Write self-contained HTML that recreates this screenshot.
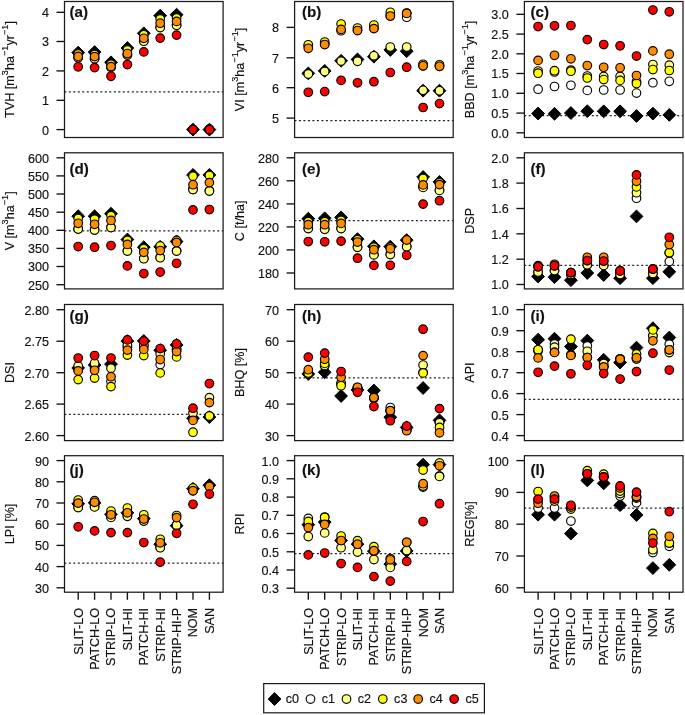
<!DOCTYPE html><html><head><meta charset="utf-8"><style>html,body{margin:0;padding:0;background:#fff;}svg{display:block;font-family:"Liberation Sans",sans-serif;will-change:transform;}text{stroke:#111;stroke-width:0.15px;fill:#111;}</style></head><body>
<svg width="685" height="715" viewBox="0 0 685 715">
<rect width="685" height="715" fill="#fff"/>
<line x1="64.3" y1="91.8" x2="223.1" y2="91.8" stroke="#222" stroke-width="1.25" stroke-dasharray="2 2.5"/>
<path d="M78.2 46.2L84.6 52.6L78.2 59L71.8 52.6Z" fill="#000" stroke="#000" stroke-width="1"/>
<circle cx="78.2" cy="57.4" r="4.3" fill="#ffffff" stroke="#000" stroke-width="1.15"/>
<circle cx="78.2" cy="57.7" r="4.3" fill="#ffff80" stroke="#000" stroke-width="1.15"/>
<circle cx="78.2" cy="54" r="4.3" fill="#ffff00" stroke="#000" stroke-width="1.15"/>
<circle cx="78.2" cy="56.4" r="4.3" fill="#ff8c00" stroke="#000" stroke-width="1.15"/>
<circle cx="78.2" cy="66.8" r="4.3" fill="#ff0000" stroke="#000" stroke-width="1.15"/>
<path d="M94.6 45.7L101 52.1L94.6 58.5L88.2 52.1Z" fill="#000" stroke="#000" stroke-width="1"/>
<circle cx="94.6" cy="58.4" r="4.3" fill="#ffffff" stroke="#000" stroke-width="1.15"/>
<circle cx="94.6" cy="58.7" r="4.3" fill="#ffff80" stroke="#000" stroke-width="1.15"/>
<circle cx="94.6" cy="54.5" r="4.3" fill="#ffff00" stroke="#000" stroke-width="1.15"/>
<circle cx="94.6" cy="56.6" r="4.3" fill="#ff8c00" stroke="#000" stroke-width="1.15"/>
<circle cx="94.6" cy="67.6" r="4.3" fill="#ff0000" stroke="#000" stroke-width="1.15"/>
<path d="M111 55.9L117.4 62.3L111 68.7L104.6 62.3Z" fill="#000" stroke="#000" stroke-width="1"/>
<circle cx="111" cy="67.1" r="4.3" fill="#ffffff" stroke="#000" stroke-width="1.15"/>
<circle cx="111" cy="67.4" r="4.3" fill="#ffff80" stroke="#000" stroke-width="1.15"/>
<circle cx="111" cy="64.2" r="4.3" fill="#ffff00" stroke="#000" stroke-width="1.15"/>
<circle cx="111" cy="66.6" r="4.3" fill="#ff8c00" stroke="#000" stroke-width="1.15"/>
<circle cx="111" cy="76.3" r="4.3" fill="#ff0000" stroke="#000" stroke-width="1.15"/>
<path d="M127.4 41.6L133.8 48L127.4 54.4L121 48Z" fill="#000" stroke="#000" stroke-width="1"/>
<circle cx="127.4" cy="54.8" r="4.3" fill="#ffffff" stroke="#000" stroke-width="1.15"/>
<circle cx="127.4" cy="55.1" r="4.3" fill="#ffff80" stroke="#000" stroke-width="1.15"/>
<circle cx="127.4" cy="49.9" r="4.3" fill="#ffff00" stroke="#000" stroke-width="1.15"/>
<circle cx="127.4" cy="53.5" r="4.3" fill="#ff8c00" stroke="#000" stroke-width="1.15"/>
<circle cx="127.4" cy="64.5" r="4.3" fill="#ff0000" stroke="#000" stroke-width="1.15"/>
<path d="M143.8 26.9L150.2 33.3L143.8 39.7L137.4 33.3Z" fill="#000" stroke="#000" stroke-width="1"/>
<circle cx="143.8" cy="40.9" r="4.3" fill="#ffffff" stroke="#000" stroke-width="1.15"/>
<circle cx="143.8" cy="41.2" r="4.3" fill="#ffff80" stroke="#000" stroke-width="1.15"/>
<circle cx="143.8" cy="34.7" r="4.3" fill="#ffff00" stroke="#000" stroke-width="1.15"/>
<circle cx="143.8" cy="38.3" r="4.3" fill="#ff8c00" stroke="#000" stroke-width="1.15"/>
<circle cx="143.8" cy="51.9" r="4.3" fill="#ff0000" stroke="#000" stroke-width="1.15"/>
<path d="M160.2 9.2L166.6 15.6L160.2 22L153.8 15.6Z" fill="#000" stroke="#000" stroke-width="1"/>
<circle cx="160.2" cy="27.3" r="4.3" fill="#ffffff" stroke="#000" stroke-width="1.15"/>
<circle cx="160.2" cy="27.6" r="4.3" fill="#ffff80" stroke="#000" stroke-width="1.15"/>
<circle cx="160.2" cy="18.9" r="4.3" fill="#ffff00" stroke="#000" stroke-width="1.15"/>
<circle cx="160.2" cy="23.2" r="4.3" fill="#ff8c00" stroke="#000" stroke-width="1.15"/>
<circle cx="160.2" cy="38.1" r="4.3" fill="#ff0000" stroke="#000" stroke-width="1.15"/>
<path d="M176.6 8.3L183 14.7L176.6 21.1L170.2 14.7Z" fill="#000" stroke="#000" stroke-width="1"/>
<circle cx="176.6" cy="24.9" r="4.3" fill="#ffffff" stroke="#000" stroke-width="1.15"/>
<circle cx="176.6" cy="25.2" r="4.3" fill="#ffff80" stroke="#000" stroke-width="1.15"/>
<circle cx="176.6" cy="18" r="4.3" fill="#ffff00" stroke="#000" stroke-width="1.15"/>
<circle cx="176.6" cy="21.4" r="4.3" fill="#ff8c00" stroke="#000" stroke-width="1.15"/>
<circle cx="176.6" cy="35.1" r="4.3" fill="#ff0000" stroke="#000" stroke-width="1.15"/>
<path d="M193 123.2L199.4 129.6L193 136L186.6 129.6Z" fill="#000" stroke="#000" stroke-width="1"/>
<circle cx="193" cy="129.3" r="4.3" fill="#ffffff" stroke="#000" stroke-width="1.15"/>
<circle cx="193" cy="129.6" r="4.3" fill="#ffff80" stroke="#000" stroke-width="1.15"/>
<circle cx="193" cy="129.6" r="4.3" fill="#ffff00" stroke="#000" stroke-width="1.15"/>
<circle cx="193" cy="129.6" r="4.3" fill="#ff8c00" stroke="#000" stroke-width="1.15"/>
<circle cx="193" cy="129.6" r="4.3" fill="#ff0000" stroke="#000" stroke-width="1.15"/>
<path d="M209.4 123.2L215.8 129.6L209.4 136L203 129.6Z" fill="#000" stroke="#000" stroke-width="1"/>
<circle cx="209.4" cy="129.3" r="4.3" fill="#ffffff" stroke="#000" stroke-width="1.15"/>
<circle cx="209.4" cy="129.6" r="4.3" fill="#ffff80" stroke="#000" stroke-width="1.15"/>
<circle cx="209.4" cy="129.6" r="4.3" fill="#ffff00" stroke="#000" stroke-width="1.15"/>
<circle cx="209.4" cy="129.6" r="4.3" fill="#ff8c00" stroke="#000" stroke-width="1.15"/>
<circle cx="209.4" cy="129.6" r="4.3" fill="#ff0000" stroke="#000" stroke-width="1.15"/>
<rect x="64.5" y="1.5" width="158.6" height="136" fill="none" stroke="#1a1a1a" stroke-width="1.25"/>
<line x1="56.5" y1="12.3" x2="64.5" y2="12.3" stroke="#111" stroke-width="1.35"/>
<text x="48.9" y="17.2" text-anchor="end" font-size="12.6" fill="#111">4</text>
<line x1="56.5" y1="41.5" x2="64.5" y2="41.5" stroke="#111" stroke-width="1.35"/>
<text x="48.9" y="46.4" text-anchor="end" font-size="12.6" fill="#111">3</text>
<line x1="56.5" y1="70.9" x2="64.5" y2="70.9" stroke="#111" stroke-width="1.35"/>
<text x="48.9" y="75.8" text-anchor="end" font-size="12.6" fill="#111">2</text>
<line x1="56.5" y1="100.3" x2="64.5" y2="100.3" stroke="#111" stroke-width="1.35"/>
<text x="48.9" y="105.2" text-anchor="end" font-size="12.6" fill="#111">1</text>
<line x1="56.5" y1="129.6" x2="64.5" y2="129.6" stroke="#111" stroke-width="1.35"/>
<text x="48.9" y="134.5" text-anchor="end" font-size="12.6" fill="#111">0</text>
<text transform="translate(14.1 69.5) rotate(-90)" text-anchor="middle" font-size="12.6">TVH [m<tspan font-size="9.2" dy="-6">3</tspan><tspan dy="6">ha</tspan><tspan font-size="9.2" dy="-6">−1</tspan><tspan dy="6">yr</tspan><tspan font-size="9.2" dy="-6">−1</tspan><tspan dy="6">]</tspan></text>
<text x="69.5" y="16.6" font-size="15.2" font-weight="bold" fill="#111">(a)</text>
<line x1="294.4" y1="120.6" x2="453.2" y2="120.6" stroke="#222" stroke-width="1.25" stroke-dasharray="2 2.5"/>
<path d="M308.3 67L314.7 73.4L308.3 79.8L301.9 73.4Z" fill="#000" stroke="#000" stroke-width="1"/>
<circle cx="308.3" cy="46" r="4.3" fill="#ffffff" stroke="#000" stroke-width="1.15"/>
<circle cx="308.3" cy="74.1" r="4.3" fill="#ffff80" stroke="#000" stroke-width="1.15"/>
<circle cx="308.3" cy="44.8" r="4.3" fill="#ffff00" stroke="#000" stroke-width="1.15"/>
<circle cx="308.3" cy="48.3" r="4.3" fill="#ff8c00" stroke="#000" stroke-width="1.15"/>
<circle cx="308.3" cy="92.3" r="4.3" fill="#ff0000" stroke="#000" stroke-width="1.15"/>
<path d="M324.7 64.5L331.1 70.9L324.7 77.3L318.3 70.9Z" fill="#000" stroke="#000" stroke-width="1"/>
<circle cx="324.7" cy="44" r="4.3" fill="#ffffff" stroke="#000" stroke-width="1.15"/>
<circle cx="324.7" cy="71.6" r="4.3" fill="#ffff80" stroke="#000" stroke-width="1.15"/>
<circle cx="324.7" cy="42" r="4.3" fill="#ffff00" stroke="#000" stroke-width="1.15"/>
<circle cx="324.7" cy="44.5" r="4.3" fill="#ff8c00" stroke="#000" stroke-width="1.15"/>
<circle cx="324.7" cy="91.6" r="4.3" fill="#ff0000" stroke="#000" stroke-width="1.15"/>
<path d="M341.1 54.4L347.5 60.8L341.1 67.2L334.7 60.8Z" fill="#000" stroke="#000" stroke-width="1"/>
<circle cx="341.1" cy="30.7" r="4.3" fill="#ffffff" stroke="#000" stroke-width="1.15"/>
<circle cx="341.1" cy="61.1" r="4.3" fill="#ffff80" stroke="#000" stroke-width="1.15"/>
<circle cx="341.1" cy="24" r="4.3" fill="#ffff00" stroke="#000" stroke-width="1.15"/>
<circle cx="341.1" cy="29.4" r="4.3" fill="#ff8c00" stroke="#000" stroke-width="1.15"/>
<circle cx="341.1" cy="80.4" r="4.3" fill="#ff0000" stroke="#000" stroke-width="1.15"/>
<path d="M357.5 53L363.9 59.4L357.5 65.8L351.1 59.4Z" fill="#000" stroke="#000" stroke-width="1"/>
<circle cx="357.5" cy="30" r="4.3" fill="#ffffff" stroke="#000" stroke-width="1.15"/>
<circle cx="357.5" cy="61.3" r="4.3" fill="#ffff80" stroke="#000" stroke-width="1.15"/>
<circle cx="357.5" cy="28" r="4.3" fill="#ffff00" stroke="#000" stroke-width="1.15"/>
<circle cx="357.5" cy="30.5" r="4.3" fill="#ff8c00" stroke="#000" stroke-width="1.15"/>
<circle cx="357.5" cy="82.8" r="4.3" fill="#ff0000" stroke="#000" stroke-width="1.15"/>
<path d="M373.9 50.3L380.3 56.7L373.9 63.1L367.5 56.7Z" fill="#000" stroke="#000" stroke-width="1"/>
<circle cx="373.9" cy="28" r="4.3" fill="#ffffff" stroke="#000" stroke-width="1.15"/>
<circle cx="373.9" cy="55.8" r="4.3" fill="#ffff80" stroke="#000" stroke-width="1.15"/>
<circle cx="373.9" cy="25" r="4.3" fill="#ffff00" stroke="#000" stroke-width="1.15"/>
<circle cx="373.9" cy="28.6" r="4.3" fill="#ff8c00" stroke="#000" stroke-width="1.15"/>
<circle cx="373.9" cy="81.7" r="4.3" fill="#ff0000" stroke="#000" stroke-width="1.15"/>
<path d="M390.3 43.6L396.7 50L390.3 56.4L383.9 50Z" fill="#000" stroke="#000" stroke-width="1"/>
<circle cx="390.3" cy="16" r="4.3" fill="#ffffff" stroke="#000" stroke-width="1.15"/>
<circle cx="390.3" cy="47" r="4.3" fill="#ffff80" stroke="#000" stroke-width="1.15"/>
<circle cx="390.3" cy="12.3" r="4.3" fill="#ffff00" stroke="#000" stroke-width="1.15"/>
<circle cx="390.3" cy="16" r="4.3" fill="#ff8c00" stroke="#000" stroke-width="1.15"/>
<circle cx="390.3" cy="72.5" r="4.3" fill="#ff0000" stroke="#000" stroke-width="1.15"/>
<path d="M406.7 44.8L413.1 51.2L406.7 57.6L400.3 51.2Z" fill="#000" stroke="#000" stroke-width="1"/>
<circle cx="406.7" cy="17.2" r="4.3" fill="#ffffff" stroke="#000" stroke-width="1.15"/>
<circle cx="406.7" cy="47" r="4.3" fill="#ffff80" stroke="#000" stroke-width="1.15"/>
<circle cx="406.7" cy="13" r="4.3" fill="#ffff00" stroke="#000" stroke-width="1.15"/>
<circle cx="406.7" cy="13.4" r="4.3" fill="#ff8c00" stroke="#000" stroke-width="1.15"/>
<circle cx="406.7" cy="67.2" r="4.3" fill="#ff0000" stroke="#000" stroke-width="1.15"/>
<path d="M423.1 84.3L429.5 90.7L423.1 97.1L416.7 90.7Z" fill="#000" stroke="#000" stroke-width="1"/>
<circle cx="423.1" cy="65.8" r="4.3" fill="#ffffff" stroke="#000" stroke-width="1.15"/>
<circle cx="423.1" cy="90.3" r="4.3" fill="#ffff80" stroke="#000" stroke-width="1.15"/>
<circle cx="423.1" cy="64.3" r="4.3" fill="#ffff00" stroke="#000" stroke-width="1.15"/>
<circle cx="423.1" cy="65.8" r="4.3" fill="#ff8c00" stroke="#000" stroke-width="1.15"/>
<circle cx="423.1" cy="107.5" r="4.3" fill="#ff0000" stroke="#000" stroke-width="1.15"/>
<path d="M439.5 84.3L445.9 90.7L439.5 97.1L433.1 90.7Z" fill="#000" stroke="#000" stroke-width="1"/>
<circle cx="439.5" cy="66.3" r="4.3" fill="#ffffff" stroke="#000" stroke-width="1.15"/>
<circle cx="439.5" cy="90.7" r="4.3" fill="#ffff80" stroke="#000" stroke-width="1.15"/>
<circle cx="439.5" cy="64.8" r="4.3" fill="#ffff00" stroke="#000" stroke-width="1.15"/>
<circle cx="439.5" cy="66.3" r="4.3" fill="#ff8c00" stroke="#000" stroke-width="1.15"/>
<circle cx="439.5" cy="103.6" r="4.3" fill="#ff0000" stroke="#000" stroke-width="1.15"/>
<rect x="294.6" y="1.5" width="158.6" height="136" fill="none" stroke="#1a1a1a" stroke-width="1.25"/>
<line x1="286.6" y1="27.4" x2="294.6" y2="27.4" stroke="#111" stroke-width="1.35"/>
<text x="279" y="32.3" text-anchor="end" font-size="12.6" fill="#111">8</text>
<line x1="286.6" y1="57.8" x2="294.6" y2="57.8" stroke="#111" stroke-width="1.35"/>
<text x="279" y="62.7" text-anchor="end" font-size="12.6" fill="#111">7</text>
<line x1="286.6" y1="87.7" x2="294.6" y2="87.7" stroke="#111" stroke-width="1.35"/>
<text x="279" y="92.6" text-anchor="end" font-size="12.6" fill="#111">6</text>
<line x1="286.6" y1="118.1" x2="294.6" y2="118.1" stroke="#111" stroke-width="1.35"/>
<text x="279" y="123" text-anchor="end" font-size="12.6" fill="#111">5</text>
<text transform="translate(244.2 69.5) rotate(-90)" text-anchor="middle" font-size="12.6">VI [m<tspan font-size="9.2" dy="-6">3</tspan><tspan dy="6">ha</tspan><tspan font-size="9.2" dy="-6">−1</tspan><tspan dy="6">yr</tspan><tspan font-size="9.2" dy="-6">−1</tspan><tspan dy="6">]</tspan></text>
<text x="301.9" y="16.6" font-size="15.2" font-weight="bold" fill="#111">(b)</text>
<line x1="524.2" y1="115.5" x2="683" y2="115.5" stroke="#222" stroke-width="1.25" stroke-dasharray="2 2.5"/>
<path d="M538.1 107.1L544.5 113.5L538.1 119.9L531.7 113.5Z" fill="#000" stroke="#000" stroke-width="1"/>
<circle cx="538.1" cy="89.2" r="4.3" fill="#ffffff" stroke="#000" stroke-width="1.15"/>
<circle cx="538.1" cy="71" r="4.3" fill="#ffff80" stroke="#000" stroke-width="1.15"/>
<circle cx="538.1" cy="73.2" r="4.3" fill="#ffff00" stroke="#000" stroke-width="1.15"/>
<circle cx="538.1" cy="60.4" r="4.3" fill="#ff8c00" stroke="#000" stroke-width="1.15"/>
<circle cx="538.1" cy="26.5" r="4.3" fill="#ff0000" stroke="#000" stroke-width="1.15"/>
<path d="M554.5 107.4L560.9 113.8L554.5 120.2L548.1 113.8Z" fill="#000" stroke="#000" stroke-width="1"/>
<circle cx="554.5" cy="86.5" r="4.3" fill="#ffffff" stroke="#000" stroke-width="1.15"/>
<circle cx="554.5" cy="72" r="4.3" fill="#ffff80" stroke="#000" stroke-width="1.15"/>
<circle cx="554.5" cy="70.7" r="4.3" fill="#ffff00" stroke="#000" stroke-width="1.15"/>
<circle cx="554.5" cy="55.3" r="4.3" fill="#ff8c00" stroke="#000" stroke-width="1.15"/>
<circle cx="554.5" cy="25.8" r="4.3" fill="#ff0000" stroke="#000" stroke-width="1.15"/>
<path d="M570.9 106.6L577.3 113L570.9 119.4L564.5 113Z" fill="#000" stroke="#000" stroke-width="1"/>
<circle cx="570.9" cy="85.3" r="4.3" fill="#ffffff" stroke="#000" stroke-width="1.15"/>
<circle cx="570.9" cy="70" r="4.3" fill="#ffff80" stroke="#000" stroke-width="1.15"/>
<circle cx="570.9" cy="71.2" r="4.3" fill="#ffff00" stroke="#000" stroke-width="1.15"/>
<circle cx="570.9" cy="58.8" r="4.3" fill="#ff8c00" stroke="#000" stroke-width="1.15"/>
<circle cx="570.9" cy="25.5" r="4.3" fill="#ff0000" stroke="#000" stroke-width="1.15"/>
<path d="M587.3 104.8L593.7 111.2L587.3 117.6L580.9 111.2Z" fill="#000" stroke="#000" stroke-width="1"/>
<circle cx="587.3" cy="90.4" r="4.3" fill="#ffffff" stroke="#000" stroke-width="1.15"/>
<circle cx="587.3" cy="76" r="4.3" fill="#ffff80" stroke="#000" stroke-width="1.15"/>
<circle cx="587.3" cy="78" r="4.3" fill="#ffff00" stroke="#000" stroke-width="1.15"/>
<circle cx="587.3" cy="65.5" r="4.3" fill="#ff8c00" stroke="#000" stroke-width="1.15"/>
<circle cx="587.3" cy="39.6" r="4.3" fill="#ff0000" stroke="#000" stroke-width="1.15"/>
<path d="M603.7 104.9L610.1 111.3L603.7 117.7L597.3 111.3Z" fill="#000" stroke="#000" stroke-width="1"/>
<circle cx="603.7" cy="90" r="4.3" fill="#ffffff" stroke="#000" stroke-width="1.15"/>
<circle cx="603.7" cy="76.4" r="4.3" fill="#ffff80" stroke="#000" stroke-width="1.15"/>
<circle cx="603.7" cy="79.6" r="4.3" fill="#ffff00" stroke="#000" stroke-width="1.15"/>
<circle cx="603.7" cy="67.3" r="4.3" fill="#ff8c00" stroke="#000" stroke-width="1.15"/>
<circle cx="603.7" cy="44.5" r="4.3" fill="#ff0000" stroke="#000" stroke-width="1.15"/>
<path d="M620.1 104.9L626.5 111.3L620.1 117.7L613.7 111.3Z" fill="#000" stroke="#000" stroke-width="1"/>
<circle cx="620.1" cy="90" r="4.3" fill="#ffffff" stroke="#000" stroke-width="1.15"/>
<circle cx="620.1" cy="76.4" r="4.3" fill="#ffff80" stroke="#000" stroke-width="1.15"/>
<circle cx="620.1" cy="80.4" r="4.3" fill="#ffff00" stroke="#000" stroke-width="1.15"/>
<circle cx="620.1" cy="67.8" r="4.3" fill="#ff8c00" stroke="#000" stroke-width="1.15"/>
<circle cx="620.1" cy="45.8" r="4.3" fill="#ff0000" stroke="#000" stroke-width="1.15"/>
<path d="M636.5 109.6L642.9 116L636.5 122.4L630.1 116Z" fill="#000" stroke="#000" stroke-width="1"/>
<circle cx="636.5" cy="93.1" r="4.3" fill="#ffffff" stroke="#000" stroke-width="1.15"/>
<circle cx="636.5" cy="81.8" r="4.3" fill="#ffff80" stroke="#000" stroke-width="1.15"/>
<circle cx="636.5" cy="83.6" r="4.3" fill="#ffff00" stroke="#000" stroke-width="1.15"/>
<circle cx="636.5" cy="75.5" r="4.3" fill="#ff8c00" stroke="#000" stroke-width="1.15"/>
<circle cx="636.5" cy="56" r="4.3" fill="#ff0000" stroke="#000" stroke-width="1.15"/>
<path d="M652.9 107.2L659.3 113.6L652.9 120L646.5 113.6Z" fill="#000" stroke="#000" stroke-width="1"/>
<circle cx="652.9" cy="82.7" r="4.3" fill="#ffffff" stroke="#000" stroke-width="1.15"/>
<circle cx="652.9" cy="64.5" r="4.3" fill="#ffff80" stroke="#000" stroke-width="1.15"/>
<circle cx="652.9" cy="69.6" r="4.3" fill="#ffff00" stroke="#000" stroke-width="1.15"/>
<circle cx="652.9" cy="50.9" r="4.3" fill="#ff8c00" stroke="#000" stroke-width="1.15"/>
<circle cx="652.9" cy="10" r="4.3" fill="#ff0000" stroke="#000" stroke-width="1.15"/>
<path d="M669.3 108.5L675.7 114.9L669.3 121.3L662.9 114.9Z" fill="#000" stroke="#000" stroke-width="1"/>
<circle cx="669.3" cy="81.3" r="4.3" fill="#ffffff" stroke="#000" stroke-width="1.15"/>
<circle cx="669.3" cy="65.1" r="4.3" fill="#ffff80" stroke="#000" stroke-width="1.15"/>
<circle cx="669.3" cy="70.5" r="4.3" fill="#ffff00" stroke="#000" stroke-width="1.15"/>
<circle cx="669.3" cy="54.2" r="4.3" fill="#ff8c00" stroke="#000" stroke-width="1.15"/>
<circle cx="669.3" cy="11.8" r="4.3" fill="#ff0000" stroke="#000" stroke-width="1.15"/>
<rect x="524.4" y="1.5" width="158.6" height="136" fill="none" stroke="#1a1a1a" stroke-width="1.25"/>
<line x1="516.4" y1="14.3" x2="524.4" y2="14.3" stroke="#111" stroke-width="1.35"/>
<text x="508.8" y="19.2" text-anchor="end" font-size="12.6" fill="#111">3.0</text>
<line x1="516.4" y1="34.1" x2="524.4" y2="34.1" stroke="#111" stroke-width="1.35"/>
<text x="508.8" y="39" text-anchor="end" font-size="12.6" fill="#111">2.5</text>
<line x1="516.4" y1="53.8" x2="524.4" y2="53.8" stroke="#111" stroke-width="1.35"/>
<text x="508.8" y="58.7" text-anchor="end" font-size="12.6" fill="#111">2.0</text>
<line x1="516.4" y1="73.5" x2="524.4" y2="73.5" stroke="#111" stroke-width="1.35"/>
<text x="508.8" y="78.4" text-anchor="end" font-size="12.6" fill="#111">1.5</text>
<line x1="516.4" y1="93.3" x2="524.4" y2="93.3" stroke="#111" stroke-width="1.35"/>
<text x="508.8" y="98.2" text-anchor="end" font-size="12.6" fill="#111">1.0</text>
<line x1="516.4" y1="113.1" x2="524.4" y2="113.1" stroke="#111" stroke-width="1.35"/>
<text x="508.8" y="118" text-anchor="end" font-size="12.6" fill="#111">0.5</text>
<line x1="516.4" y1="132.8" x2="524.4" y2="132.8" stroke="#111" stroke-width="1.35"/>
<text x="508.8" y="137.7" text-anchor="end" font-size="12.6" fill="#111">0.0</text>
<text transform="translate(474 69.5) rotate(-90)" text-anchor="middle" font-size="12.6">BBD [m<tspan font-size="9.2" dy="-6">3</tspan><tspan dy="6">ha</tspan><tspan font-size="9.2" dy="-6">−1</tspan><tspan dy="6">yr</tspan><tspan font-size="9.2" dy="-6">−1</tspan><tspan dy="6">]</tspan></text>
<text x="530.5" y="16.6" font-size="15.2" font-weight="bold" fill="#111">(c)</text>
<line x1="64.3" y1="230.8" x2="223.1" y2="230.8" stroke="#222" stroke-width="1.25" stroke-dasharray="2 2.5"/>
<path d="M78.2 209.8L84.6 216.2L78.2 222.6L71.8 216.2Z" fill="#000" stroke="#000" stroke-width="1"/>
<circle cx="78.2" cy="228.7" r="4.3" fill="#ffffff" stroke="#000" stroke-width="1.15"/>
<circle cx="78.2" cy="229" r="4.3" fill="#ffff80" stroke="#000" stroke-width="1.15"/>
<circle cx="78.2" cy="218.5" r="4.3" fill="#ffff00" stroke="#000" stroke-width="1.15"/>
<circle cx="78.2" cy="223.3" r="4.3" fill="#ff8c00" stroke="#000" stroke-width="1.15"/>
<circle cx="78.2" cy="246.5" r="4.3" fill="#ff0000" stroke="#000" stroke-width="1.15"/>
<path d="M94.6 209.8L101 216.2L94.6 222.6L88.2 216.2Z" fill="#000" stroke="#000" stroke-width="1"/>
<circle cx="94.6" cy="229.7" r="4.3" fill="#ffffff" stroke="#000" stroke-width="1.15"/>
<circle cx="94.6" cy="230" r="4.3" fill="#ffff80" stroke="#000" stroke-width="1.15"/>
<circle cx="94.6" cy="219.3" r="4.3" fill="#ffff00" stroke="#000" stroke-width="1.15"/>
<circle cx="94.6" cy="224.3" r="4.3" fill="#ff8c00" stroke="#000" stroke-width="1.15"/>
<circle cx="94.6" cy="247.2" r="4.3" fill="#ff0000" stroke="#000" stroke-width="1.15"/>
<path d="M111 207.3L117.4 213.7L111 220.1L104.6 213.7Z" fill="#000" stroke="#000" stroke-width="1"/>
<circle cx="111" cy="227.3" r="4.3" fill="#ffffff" stroke="#000" stroke-width="1.15"/>
<circle cx="111" cy="227.6" r="4.3" fill="#ffff80" stroke="#000" stroke-width="1.15"/>
<circle cx="111" cy="215.6" r="4.3" fill="#ffff00" stroke="#000" stroke-width="1.15"/>
<circle cx="111" cy="220.4" r="4.3" fill="#ff8c00" stroke="#000" stroke-width="1.15"/>
<circle cx="111" cy="245.5" r="4.3" fill="#ff0000" stroke="#000" stroke-width="1.15"/>
<path d="M127.4 233.1L133.8 239.5L127.4 245.9L121 239.5Z" fill="#000" stroke="#000" stroke-width="1"/>
<circle cx="127.4" cy="250.8" r="4.3" fill="#ffffff" stroke="#000" stroke-width="1.15"/>
<circle cx="127.4" cy="251.1" r="4.3" fill="#ffff80" stroke="#000" stroke-width="1.15"/>
<circle cx="127.4" cy="240.4" r="4.3" fill="#ffff00" stroke="#000" stroke-width="1.15"/>
<circle cx="127.4" cy="244.4" r="4.3" fill="#ff8c00" stroke="#000" stroke-width="1.15"/>
<circle cx="127.4" cy="265.9" r="4.3" fill="#ff0000" stroke="#000" stroke-width="1.15"/>
<path d="M143.8 240.8L150.2 247.2L143.8 253.6L137.4 247.2Z" fill="#000" stroke="#000" stroke-width="1"/>
<circle cx="143.8" cy="258.4" r="4.3" fill="#ffffff" stroke="#000" stroke-width="1.15"/>
<circle cx="143.8" cy="258.7" r="4.3" fill="#ffff80" stroke="#000" stroke-width="1.15"/>
<circle cx="143.8" cy="248.6" r="4.3" fill="#ffff00" stroke="#000" stroke-width="1.15"/>
<circle cx="143.8" cy="252.4" r="4.3" fill="#ff8c00" stroke="#000" stroke-width="1.15"/>
<circle cx="143.8" cy="273.5" r="4.3" fill="#ff0000" stroke="#000" stroke-width="1.15"/>
<path d="M160.2 240.4L166.6 246.8L160.2 253.2L153.8 246.8Z" fill="#000" stroke="#000" stroke-width="1"/>
<circle cx="160.2" cy="257.4" r="4.3" fill="#ffffff" stroke="#000" stroke-width="1.15"/>
<circle cx="160.2" cy="257.7" r="4.3" fill="#ffff80" stroke="#000" stroke-width="1.15"/>
<circle cx="160.2" cy="246" r="4.3" fill="#ffff00" stroke="#000" stroke-width="1.15"/>
<circle cx="160.2" cy="250.5" r="4.3" fill="#ff8c00" stroke="#000" stroke-width="1.15"/>
<circle cx="160.2" cy="272" r="4.3" fill="#ff0000" stroke="#000" stroke-width="1.15"/>
<path d="M176.6 235.1L183 241.5L176.6 247.9L170.2 241.5Z" fill="#000" stroke="#000" stroke-width="1"/>
<circle cx="176.6" cy="250.8" r="4.3" fill="#ffffff" stroke="#000" stroke-width="1.15"/>
<circle cx="176.6" cy="251.1" r="4.3" fill="#ffff80" stroke="#000" stroke-width="1.15"/>
<circle cx="176.6" cy="240.4" r="4.3" fill="#ffff00" stroke="#000" stroke-width="1.15"/>
<circle cx="176.6" cy="242.4" r="4.3" fill="#ff8c00" stroke="#000" stroke-width="1.15"/>
<circle cx="176.6" cy="263.3" r="4.3" fill="#ff0000" stroke="#000" stroke-width="1.15"/>
<path d="M193 168.5L199.4 174.9L193 181.3L186.6 174.9Z" fill="#000" stroke="#000" stroke-width="1"/>
<circle cx="193" cy="189.2" r="4.3" fill="#ffffff" stroke="#000" stroke-width="1.15"/>
<circle cx="193" cy="189.5" r="4.3" fill="#ffff80" stroke="#000" stroke-width="1.15"/>
<circle cx="193" cy="176.3" r="4.3" fill="#ffff00" stroke="#000" stroke-width="1.15"/>
<circle cx="193" cy="184.7" r="4.3" fill="#ff8c00" stroke="#000" stroke-width="1.15"/>
<circle cx="193" cy="209.9" r="4.3" fill="#ff0000" stroke="#000" stroke-width="1.15"/>
<path d="M209.4 168.5L215.8 174.9L209.4 181.3L203 174.9Z" fill="#000" stroke="#000" stroke-width="1"/>
<circle cx="209.4" cy="190.7" r="4.3" fill="#ffffff" stroke="#000" stroke-width="1.15"/>
<circle cx="209.4" cy="191" r="4.3" fill="#ffff80" stroke="#000" stroke-width="1.15"/>
<circle cx="209.4" cy="175.5" r="4.3" fill="#ffff00" stroke="#000" stroke-width="1.15"/>
<circle cx="209.4" cy="182.6" r="4.3" fill="#ff8c00" stroke="#000" stroke-width="1.15"/>
<circle cx="209.4" cy="209.5" r="4.3" fill="#ff0000" stroke="#000" stroke-width="1.15"/>
<rect x="64.5" y="152.8" width="158.6" height="136.1" fill="none" stroke="#1a1a1a" stroke-width="1.25"/>
<line x1="56.5" y1="157.8" x2="64.5" y2="157.8" stroke="#111" stroke-width="1.35"/>
<text x="48.9" y="162.7" text-anchor="end" font-size="12.6" fill="#111">600</text>
<line x1="56.5" y1="175.9" x2="64.5" y2="175.9" stroke="#111" stroke-width="1.35"/>
<text x="48.9" y="180.8" text-anchor="end" font-size="12.6" fill="#111">550</text>
<line x1="56.5" y1="194" x2="64.5" y2="194" stroke="#111" stroke-width="1.35"/>
<text x="48.9" y="198.9" text-anchor="end" font-size="12.6" fill="#111">500</text>
<line x1="56.5" y1="212.2" x2="64.5" y2="212.2" stroke="#111" stroke-width="1.35"/>
<text x="48.9" y="217.1" text-anchor="end" font-size="12.6" fill="#111">450</text>
<line x1="56.5" y1="230.3" x2="64.5" y2="230.3" stroke="#111" stroke-width="1.35"/>
<text x="48.9" y="235.2" text-anchor="end" font-size="12.6" fill="#111">400</text>
<line x1="56.5" y1="248.4" x2="64.5" y2="248.4" stroke="#111" stroke-width="1.35"/>
<text x="48.9" y="253.3" text-anchor="end" font-size="12.6" fill="#111">350</text>
<line x1="56.5" y1="266.5" x2="64.5" y2="266.5" stroke="#111" stroke-width="1.35"/>
<text x="48.9" y="271.4" text-anchor="end" font-size="12.6" fill="#111">300</text>
<line x1="56.5" y1="284.7" x2="64.5" y2="284.7" stroke="#111" stroke-width="1.35"/>
<text x="48.9" y="289.6" text-anchor="end" font-size="12.6" fill="#111">250</text>
<text transform="translate(14.1 220.85) rotate(-90)" text-anchor="middle" font-size="12.6">V [m<tspan font-size="9.2" dy="-6">3</tspan><tspan dy="6">ha</tspan><tspan font-size="9.2" dy="-6">−1</tspan><tspan dy="6">]</tspan></text>
<text x="69.5" y="173.7" font-size="15.2" font-weight="bold" fill="#111">(d)</text>
<line x1="294.4" y1="220.5" x2="453.2" y2="220.5" stroke="#222" stroke-width="1.25" stroke-dasharray="2 2.5"/>
<path d="M308.3 212.3L314.7 218.7L308.3 225.1L301.9 218.7Z" fill="#000" stroke="#000" stroke-width="1"/>
<circle cx="308.3" cy="228.3" r="4.3" fill="#ffffff" stroke="#000" stroke-width="1.15"/>
<circle cx="308.3" cy="228.6" r="4.3" fill="#ffff80" stroke="#000" stroke-width="1.15"/>
<circle cx="308.3" cy="221.7" r="4.3" fill="#ffff00" stroke="#000" stroke-width="1.15"/>
<circle cx="308.3" cy="224.7" r="4.3" fill="#ff8c00" stroke="#000" stroke-width="1.15"/>
<circle cx="308.3" cy="241.5" r="4.3" fill="#ff0000" stroke="#000" stroke-width="1.15"/>
<path d="M324.7 211.9L331.1 218.3L324.7 224.7L318.3 218.3Z" fill="#000" stroke="#000" stroke-width="1"/>
<circle cx="324.7" cy="229" r="4.3" fill="#ffffff" stroke="#000" stroke-width="1.15"/>
<circle cx="324.7" cy="229.3" r="4.3" fill="#ffff80" stroke="#000" stroke-width="1.15"/>
<circle cx="324.7" cy="221.7" r="4.3" fill="#ffff00" stroke="#000" stroke-width="1.15"/>
<circle cx="324.7" cy="224.7" r="4.3" fill="#ff8c00" stroke="#000" stroke-width="1.15"/>
<circle cx="324.7" cy="241.8" r="4.3" fill="#ff0000" stroke="#000" stroke-width="1.15"/>
<path d="M341.1 211L347.5 217.4L341.1 223.8L334.7 217.4Z" fill="#000" stroke="#000" stroke-width="1"/>
<circle cx="341.1" cy="228.3" r="4.3" fill="#ffffff" stroke="#000" stroke-width="1.15"/>
<circle cx="341.1" cy="228.6" r="4.3" fill="#ffff80" stroke="#000" stroke-width="1.15"/>
<circle cx="341.1" cy="220.4" r="4.3" fill="#ffff00" stroke="#000" stroke-width="1.15"/>
<circle cx="341.1" cy="223.4" r="4.3" fill="#ff8c00" stroke="#000" stroke-width="1.15"/>
<circle cx="341.1" cy="241.1" r="4.3" fill="#ff0000" stroke="#000" stroke-width="1.15"/>
<path d="M357.5 232.7L363.9 239.1L357.5 245.5L351.1 239.1Z" fill="#000" stroke="#000" stroke-width="1"/>
<circle cx="357.5" cy="247" r="4.3" fill="#ffffff" stroke="#000" stroke-width="1.15"/>
<circle cx="357.5" cy="247.3" r="4.3" fill="#ffff80" stroke="#000" stroke-width="1.15"/>
<circle cx="357.5" cy="239.7" r="4.3" fill="#ffff00" stroke="#000" stroke-width="1.15"/>
<circle cx="357.5" cy="242" r="4.3" fill="#ff8c00" stroke="#000" stroke-width="1.15"/>
<circle cx="357.5" cy="258.2" r="4.3" fill="#ff0000" stroke="#000" stroke-width="1.15"/>
<path d="M373.9 239.9L380.3 246.3L373.9 252.7L367.5 246.3Z" fill="#000" stroke="#000" stroke-width="1"/>
<circle cx="373.9" cy="254.6" r="4.3" fill="#ffffff" stroke="#000" stroke-width="1.15"/>
<circle cx="373.9" cy="254.9" r="4.3" fill="#ffff80" stroke="#000" stroke-width="1.15"/>
<circle cx="373.9" cy="247.3" r="4.3" fill="#ffff00" stroke="#000" stroke-width="1.15"/>
<circle cx="373.9" cy="249.7" r="4.3" fill="#ff8c00" stroke="#000" stroke-width="1.15"/>
<circle cx="373.9" cy="265.4" r="4.3" fill="#ff0000" stroke="#000" stroke-width="1.15"/>
<path d="M390.3 240.2L396.7 246.6L390.3 253L383.9 246.6Z" fill="#000" stroke="#000" stroke-width="1"/>
<circle cx="390.3" cy="254.2" r="4.3" fill="#ffffff" stroke="#000" stroke-width="1.15"/>
<circle cx="390.3" cy="254.5" r="4.3" fill="#ffff80" stroke="#000" stroke-width="1.15"/>
<circle cx="390.3" cy="247.2" r="4.3" fill="#ffff00" stroke="#000" stroke-width="1.15"/>
<circle cx="390.3" cy="248.8" r="4.3" fill="#ff8c00" stroke="#000" stroke-width="1.15"/>
<circle cx="390.3" cy="265.3" r="4.3" fill="#ff0000" stroke="#000" stroke-width="1.15"/>
<path d="M406.7 233.7L413.1 240.1L406.7 246.5L400.3 240.1Z" fill="#000" stroke="#000" stroke-width="1"/>
<circle cx="406.7" cy="246.5" r="4.3" fill="#ffffff" stroke="#000" stroke-width="1.15"/>
<circle cx="406.7" cy="246.8" r="4.3" fill="#ffff80" stroke="#000" stroke-width="1.15"/>
<circle cx="406.7" cy="239.9" r="4.3" fill="#ffff00" stroke="#000" stroke-width="1.15"/>
<circle cx="406.7" cy="239.9" r="4.3" fill="#ff8c00" stroke="#000" stroke-width="1.15"/>
<circle cx="406.7" cy="255.3" r="4.3" fill="#ff0000" stroke="#000" stroke-width="1.15"/>
<path d="M423.1 170.6L429.5 177L423.1 183.4L416.7 177Z" fill="#000" stroke="#000" stroke-width="1"/>
<circle cx="423.1" cy="187.1" r="4.3" fill="#ffffff" stroke="#000" stroke-width="1.15"/>
<circle cx="423.1" cy="187.4" r="4.3" fill="#ffff80" stroke="#000" stroke-width="1.15"/>
<circle cx="423.1" cy="178.4" r="4.3" fill="#ffff00" stroke="#000" stroke-width="1.15"/>
<circle cx="423.1" cy="184.9" r="4.3" fill="#ff8c00" stroke="#000" stroke-width="1.15"/>
<circle cx="423.1" cy="204.1" r="4.3" fill="#ff0000" stroke="#000" stroke-width="1.15"/>
<path d="M439.5 175.5L445.9 181.9L439.5 188.3L433.1 181.9Z" fill="#000" stroke="#000" stroke-width="1"/>
<circle cx="439.5" cy="190.1" r="4.3" fill="#ffffff" stroke="#000" stroke-width="1.15"/>
<circle cx="439.5" cy="190.4" r="4.3" fill="#ffff80" stroke="#000" stroke-width="1.15"/>
<circle cx="439.5" cy="182.6" r="4.3" fill="#ffff00" stroke="#000" stroke-width="1.15"/>
<circle cx="439.5" cy="184.6" r="4.3" fill="#ff8c00" stroke="#000" stroke-width="1.15"/>
<circle cx="439.5" cy="200.7" r="4.3" fill="#ff0000" stroke="#000" stroke-width="1.15"/>
<rect x="294.6" y="152.8" width="158.6" height="136.1" fill="none" stroke="#1a1a1a" stroke-width="1.25"/>
<line x1="286.6" y1="157.8" x2="294.6" y2="157.8" stroke="#111" stroke-width="1.35"/>
<text x="279" y="162.7" text-anchor="end" font-size="12.6" fill="#111">280</text>
<line x1="286.6" y1="180.8" x2="294.6" y2="180.8" stroke="#111" stroke-width="1.35"/>
<text x="279" y="185.7" text-anchor="end" font-size="12.6" fill="#111">260</text>
<line x1="286.6" y1="203.9" x2="294.6" y2="203.9" stroke="#111" stroke-width="1.35"/>
<text x="279" y="208.8" text-anchor="end" font-size="12.6" fill="#111">240</text>
<line x1="286.6" y1="226.9" x2="294.6" y2="226.9" stroke="#111" stroke-width="1.35"/>
<text x="279" y="231.8" text-anchor="end" font-size="12.6" fill="#111">220</text>
<line x1="286.6" y1="249.9" x2="294.6" y2="249.9" stroke="#111" stroke-width="1.35"/>
<text x="279" y="254.8" text-anchor="end" font-size="12.6" fill="#111">200</text>
<line x1="286.6" y1="273" x2="294.6" y2="273" stroke="#111" stroke-width="1.35"/>
<text x="279" y="277.9" text-anchor="end" font-size="12.6" fill="#111">180</text>
<text transform="translate(244.2 220.85) rotate(-90)" text-anchor="middle" font-size="12.6">C [t/ha]</text>
<text x="301.9" y="173.7" font-size="15.2" font-weight="bold" fill="#111">(e)</text>
<line x1="524.2" y1="265.4" x2="683" y2="265.4" stroke="#222" stroke-width="1.25" stroke-dasharray="2 2.5"/>
<path d="M538.1 270.1L544.5 276.5L538.1 282.9L531.7 276.5Z" fill="#000" stroke="#000" stroke-width="1"/>
<circle cx="538.1" cy="271.9" r="4.3" fill="#ffffff" stroke="#000" stroke-width="1.15"/>
<circle cx="538.1" cy="271.9" r="4.3" fill="#ffff80" stroke="#000" stroke-width="1.15"/>
<circle cx="538.1" cy="266.7" r="4.3" fill="#ffff00" stroke="#000" stroke-width="1.15"/>
<circle cx="538.1" cy="265.6" r="4.3" fill="#ff8c00" stroke="#000" stroke-width="1.15"/>
<circle cx="538.1" cy="266.7" r="4.3" fill="#ff0000" stroke="#000" stroke-width="1.15"/>
<path d="M554.5 270.8L560.9 277.2L554.5 283.6L548.1 277.2Z" fill="#000" stroke="#000" stroke-width="1"/>
<circle cx="554.5" cy="270.6" r="4.3" fill="#ffffff" stroke="#000" stroke-width="1.15"/>
<circle cx="554.5" cy="270.6" r="4.3" fill="#ffff80" stroke="#000" stroke-width="1.15"/>
<circle cx="554.5" cy="265.8" r="4.3" fill="#ffff00" stroke="#000" stroke-width="1.15"/>
<circle cx="554.5" cy="264.3" r="4.3" fill="#ff8c00" stroke="#000" stroke-width="1.15"/>
<circle cx="554.5" cy="265.8" r="4.3" fill="#ff0000" stroke="#000" stroke-width="1.15"/>
<path d="M570.9 273.8L577.3 280.2L570.9 286.6L564.5 280.2Z" fill="#000" stroke="#000" stroke-width="1"/>
<circle cx="570.9" cy="274.5" r="4.3" fill="#ffffff" stroke="#000" stroke-width="1.15"/>
<circle cx="570.9" cy="274.5" r="4.3" fill="#ffff80" stroke="#000" stroke-width="1.15"/>
<circle cx="570.9" cy="272.6" r="4.3" fill="#ffff00" stroke="#000" stroke-width="1.15"/>
<circle cx="570.9" cy="272.6" r="4.3" fill="#ff8c00" stroke="#000" stroke-width="1.15"/>
<circle cx="570.9" cy="272.6" r="4.3" fill="#ff0000" stroke="#000" stroke-width="1.15"/>
<path d="M587.3 266.6L593.7 273L587.3 279.4L580.9 273Z" fill="#000" stroke="#000" stroke-width="1"/>
<circle cx="587.3" cy="264.7" r="4.3" fill="#ffffff" stroke="#000" stroke-width="1.15"/>
<circle cx="587.3" cy="264.7" r="4.3" fill="#ffff80" stroke="#000" stroke-width="1.15"/>
<circle cx="587.3" cy="260.5" r="4.3" fill="#ffff00" stroke="#000" stroke-width="1.15"/>
<circle cx="587.3" cy="257.3" r="4.3" fill="#ff8c00" stroke="#000" stroke-width="1.15"/>
<circle cx="587.3" cy="260.5" r="4.3" fill="#ff0000" stroke="#000" stroke-width="1.15"/>
<path d="M603.7 268.6L610.1 275L603.7 281.4L597.3 275Z" fill="#000" stroke="#000" stroke-width="1"/>
<circle cx="603.7" cy="265.4" r="4.3" fill="#ffffff" stroke="#000" stroke-width="1.15"/>
<circle cx="603.7" cy="265.4" r="4.3" fill="#ffff80" stroke="#000" stroke-width="1.15"/>
<circle cx="603.7" cy="261" r="4.3" fill="#ffff00" stroke="#000" stroke-width="1.15"/>
<circle cx="603.7" cy="257.3" r="4.3" fill="#ff8c00" stroke="#000" stroke-width="1.15"/>
<circle cx="603.7" cy="261" r="4.3" fill="#ff0000" stroke="#000" stroke-width="1.15"/>
<path d="M620.1 271.8L626.5 278.2L620.1 284.6L613.7 278.2Z" fill="#000" stroke="#000" stroke-width="1"/>
<circle cx="620.1" cy="274.5" r="4.3" fill="#ffffff" stroke="#000" stroke-width="1.15"/>
<circle cx="620.1" cy="274.5" r="4.3" fill="#ffff80" stroke="#000" stroke-width="1.15"/>
<circle cx="620.1" cy="270.9" r="4.3" fill="#ffff00" stroke="#000" stroke-width="1.15"/>
<circle cx="620.1" cy="270.9" r="4.3" fill="#ff8c00" stroke="#000" stroke-width="1.15"/>
<circle cx="620.1" cy="270.9" r="4.3" fill="#ff0000" stroke="#000" stroke-width="1.15"/>
<path d="M636.5 210L642.9 216.4L636.5 222.8L630.1 216.4Z" fill="#000" stroke="#000" stroke-width="1"/>
<circle cx="636.5" cy="198.2" r="4.3" fill="#ffffff" stroke="#000" stroke-width="1.15"/>
<circle cx="636.5" cy="192.7" r="4.3" fill="#ffff80" stroke="#000" stroke-width="1.15"/>
<circle cx="636.5" cy="186.9" r="4.3" fill="#ffff00" stroke="#000" stroke-width="1.15"/>
<circle cx="636.5" cy="181.3" r="4.3" fill="#ff8c00" stroke="#000" stroke-width="1.15"/>
<circle cx="636.5" cy="174.9" r="4.3" fill="#ff0000" stroke="#000" stroke-width="1.15"/>
<path d="M652.9 271.8L659.3 278.2L652.9 284.6L646.5 278.2Z" fill="#000" stroke="#000" stroke-width="1"/>
<circle cx="652.9" cy="273.5" r="4.3" fill="#ffffff" stroke="#000" stroke-width="1.15"/>
<circle cx="652.9" cy="273.5" r="4.3" fill="#ffff80" stroke="#000" stroke-width="1.15"/>
<circle cx="652.9" cy="269.1" r="4.3" fill="#ffff00" stroke="#000" stroke-width="1.15"/>
<circle cx="652.9" cy="269.1" r="4.3" fill="#ff8c00" stroke="#000" stroke-width="1.15"/>
<circle cx="652.9" cy="269.1" r="4.3" fill="#ff0000" stroke="#000" stroke-width="1.15"/>
<path d="M669.3 265.4L675.7 271.8L669.3 278.2L662.9 271.8Z" fill="#000" stroke="#000" stroke-width="1"/>
<circle cx="669.3" cy="261.5" r="4.3" fill="#ffffff" stroke="#000" stroke-width="1.15"/>
<circle cx="669.3" cy="252.7" r="4.3" fill="#ffff80" stroke="#000" stroke-width="1.15"/>
<circle cx="669.3" cy="252.7" r="4.3" fill="#ffff00" stroke="#000" stroke-width="1.15"/>
<circle cx="669.3" cy="244.5" r="4.3" fill="#ff8c00" stroke="#000" stroke-width="1.15"/>
<circle cx="669.3" cy="237.3" r="4.3" fill="#ff0000" stroke="#000" stroke-width="1.15"/>
<rect x="524.4" y="152.8" width="158.6" height="136.1" fill="none" stroke="#1a1a1a" stroke-width="1.25"/>
<line x1="516.4" y1="157.8" x2="524.4" y2="157.8" stroke="#111" stroke-width="1.35"/>
<text x="508.8" y="162.7" text-anchor="end" font-size="12.6" fill="#111">2.0</text>
<line x1="516.4" y1="183.1" x2="524.4" y2="183.1" stroke="#111" stroke-width="1.35"/>
<text x="508.8" y="188" text-anchor="end" font-size="12.6" fill="#111">1.8</text>
<line x1="516.4" y1="208.5" x2="524.4" y2="208.5" stroke="#111" stroke-width="1.35"/>
<text x="508.8" y="213.4" text-anchor="end" font-size="12.6" fill="#111">1.6</text>
<line x1="516.4" y1="233.8" x2="524.4" y2="233.8" stroke="#111" stroke-width="1.35"/>
<text x="508.8" y="238.7" text-anchor="end" font-size="12.6" fill="#111">1.4</text>
<line x1="516.4" y1="259.2" x2="524.4" y2="259.2" stroke="#111" stroke-width="1.35"/>
<text x="508.8" y="264.1" text-anchor="end" font-size="12.6" fill="#111">1.2</text>
<line x1="516.4" y1="284.5" x2="524.4" y2="284.5" stroke="#111" stroke-width="1.35"/>
<text x="508.8" y="289.4" text-anchor="end" font-size="12.6" fill="#111">1.0</text>
<text transform="translate(474 220.85) rotate(-90)" text-anchor="middle" font-size="12.6">DSP</text>
<text x="530.5" y="173.7" font-size="15.2" font-weight="bold" fill="#111">(f)</text>
<line x1="64.3" y1="414.4" x2="223.1" y2="414.4" stroke="#222" stroke-width="1.25" stroke-dasharray="2 2.5"/>
<path d="M78.2 361.6L84.6 368L78.2 374.4L71.8 368Z" fill="#000" stroke="#000" stroke-width="1"/>
<circle cx="78.2" cy="370" r="4.3" fill="#ffffff" stroke="#000" stroke-width="1.15"/>
<circle cx="78.2" cy="366" r="4.3" fill="#ffff80" stroke="#000" stroke-width="1.15"/>
<circle cx="78.2" cy="379.6" r="4.3" fill="#ffff00" stroke="#000" stroke-width="1.15"/>
<circle cx="78.2" cy="370.9" r="4.3" fill="#ff8c00" stroke="#000" stroke-width="1.15"/>
<circle cx="78.2" cy="358" r="4.3" fill="#ff0000" stroke="#000" stroke-width="1.15"/>
<path d="M94.6 358.6L101 365L94.6 371.4L88.2 365Z" fill="#000" stroke="#000" stroke-width="1"/>
<circle cx="94.6" cy="368" r="4.3" fill="#ffffff" stroke="#000" stroke-width="1.15"/>
<circle cx="94.6" cy="363.3" r="4.3" fill="#ffff80" stroke="#000" stroke-width="1.15"/>
<circle cx="94.6" cy="378.1" r="4.3" fill="#ffff00" stroke="#000" stroke-width="1.15"/>
<circle cx="94.6" cy="370.3" r="4.3" fill="#ff8c00" stroke="#000" stroke-width="1.15"/>
<circle cx="94.6" cy="355.5" r="4.3" fill="#ff0000" stroke="#000" stroke-width="1.15"/>
<path d="M111 357.7L117.4 364.1L111 370.5L104.6 364.1Z" fill="#000" stroke="#000" stroke-width="1"/>
<circle cx="111" cy="381.4" r="4.3" fill="#ffffff" stroke="#000" stroke-width="1.15"/>
<circle cx="111" cy="368.3" r="4.3" fill="#ffff80" stroke="#000" stroke-width="1.15"/>
<circle cx="111" cy="386.6" r="4.3" fill="#ffff00" stroke="#000" stroke-width="1.15"/>
<circle cx="111" cy="376.7" r="4.3" fill="#ff8c00" stroke="#000" stroke-width="1.15"/>
<circle cx="111" cy="358" r="4.3" fill="#ff0000" stroke="#000" stroke-width="1.15"/>
<path d="M127.4 334.7L133.8 341.1L127.4 347.5L121 341.1Z" fill="#000" stroke="#000" stroke-width="1"/>
<circle cx="127.4" cy="347" r="4.3" fill="#ffffff" stroke="#000" stroke-width="1.15"/>
<circle cx="127.4" cy="345.2" r="4.3" fill="#ffff80" stroke="#000" stroke-width="1.15"/>
<circle cx="127.4" cy="355.1" r="4.3" fill="#ffff00" stroke="#000" stroke-width="1.15"/>
<circle cx="127.4" cy="350.1" r="4.3" fill="#ff8c00" stroke="#000" stroke-width="1.15"/>
<circle cx="127.4" cy="339.9" r="4.3" fill="#ff0000" stroke="#000" stroke-width="1.15"/>
<path d="M143.8 334.6L150.2 341L143.8 347.4L137.4 341Z" fill="#000" stroke="#000" stroke-width="1"/>
<circle cx="143.8" cy="346" r="4.3" fill="#ffffff" stroke="#000" stroke-width="1.15"/>
<circle cx="143.8" cy="345" r="4.3" fill="#ffff80" stroke="#000" stroke-width="1.15"/>
<circle cx="143.8" cy="355.6" r="4.3" fill="#ffff00" stroke="#000" stroke-width="1.15"/>
<circle cx="143.8" cy="349.4" r="4.3" fill="#ff8c00" stroke="#000" stroke-width="1.15"/>
<circle cx="143.8" cy="341" r="4.3" fill="#ff0000" stroke="#000" stroke-width="1.15"/>
<path d="M160.2 343.8L166.6 350.2L160.2 356.6L153.8 350.2Z" fill="#000" stroke="#000" stroke-width="1"/>
<circle cx="160.2" cy="364.5" r="4.3" fill="#ffffff" stroke="#000" stroke-width="1.15"/>
<circle cx="160.2" cy="354" r="4.3" fill="#ffff80" stroke="#000" stroke-width="1.15"/>
<circle cx="160.2" cy="372.9" r="4.3" fill="#ffff00" stroke="#000" stroke-width="1.15"/>
<circle cx="160.2" cy="359.5" r="4.3" fill="#ff8c00" stroke="#000" stroke-width="1.15"/>
<circle cx="160.2" cy="348.5" r="4.3" fill="#ff0000" stroke="#000" stroke-width="1.15"/>
<path d="M176.6 338.5L183 344.9L176.6 351.3L170.2 344.9Z" fill="#000" stroke="#000" stroke-width="1"/>
<circle cx="176.6" cy="350" r="4.3" fill="#ffffff" stroke="#000" stroke-width="1.15"/>
<circle cx="176.6" cy="349" r="4.3" fill="#ffff80" stroke="#000" stroke-width="1.15"/>
<circle cx="176.6" cy="356.9" r="4.3" fill="#ffff00" stroke="#000" stroke-width="1.15"/>
<circle cx="176.6" cy="351.6" r="4.3" fill="#ff8c00" stroke="#000" stroke-width="1.15"/>
<circle cx="176.6" cy="343.8" r="4.3" fill="#ff0000" stroke="#000" stroke-width="1.15"/>
<path d="M193 411.8L199.4 418.2L193 424.6L186.6 418.2Z" fill="#000" stroke="#000" stroke-width="1"/>
<circle cx="193" cy="419" r="4.3" fill="#ffffff" stroke="#000" stroke-width="1.15"/>
<circle cx="193" cy="413" r="4.3" fill="#ffff80" stroke="#000" stroke-width="1.15"/>
<circle cx="193" cy="432.2" r="4.3" fill="#ffff00" stroke="#000" stroke-width="1.15"/>
<circle cx="193" cy="420.4" r="4.3" fill="#ff8c00" stroke="#000" stroke-width="1.15"/>
<circle cx="193" cy="408.2" r="4.3" fill="#ff0000" stroke="#000" stroke-width="1.15"/>
<path d="M209.4 410.7L215.8 417.1L209.4 423.5L203 417.1Z" fill="#000" stroke="#000" stroke-width="1"/>
<circle cx="209.4" cy="416" r="4.3" fill="#ffffff" stroke="#000" stroke-width="1.15"/>
<circle cx="209.4" cy="397.6" r="4.3" fill="#ffff80" stroke="#000" stroke-width="1.15"/>
<circle cx="209.4" cy="416" r="4.3" fill="#ffff00" stroke="#000" stroke-width="1.15"/>
<circle cx="209.4" cy="402.6" r="4.3" fill="#ff8c00" stroke="#000" stroke-width="1.15"/>
<circle cx="209.4" cy="383.5" r="4.3" fill="#ff0000" stroke="#000" stroke-width="1.15"/>
<rect x="64.5" y="304.5" width="158.6" height="136.1" fill="none" stroke="#1a1a1a" stroke-width="1.25"/>
<line x1="56.5" y1="309.7" x2="64.5" y2="309.7" stroke="#111" stroke-width="1.35"/>
<text x="48.9" y="314.6" text-anchor="end" font-size="12.6" fill="#111">2.80</text>
<line x1="56.5" y1="341.2" x2="64.5" y2="341.2" stroke="#111" stroke-width="1.35"/>
<text x="48.9" y="346.1" text-anchor="end" font-size="12.6" fill="#111">2.75</text>
<line x1="56.5" y1="372.7" x2="64.5" y2="372.7" stroke="#111" stroke-width="1.35"/>
<text x="48.9" y="377.6" text-anchor="end" font-size="12.6" fill="#111">2.70</text>
<line x1="56.5" y1="404.1" x2="64.5" y2="404.1" stroke="#111" stroke-width="1.35"/>
<text x="48.9" y="409" text-anchor="end" font-size="12.6" fill="#111">2.65</text>
<line x1="56.5" y1="435.6" x2="64.5" y2="435.6" stroke="#111" stroke-width="1.35"/>
<text x="48.9" y="440.5" text-anchor="end" font-size="12.6" fill="#111">2.60</text>
<text transform="translate(14.1 372.55) rotate(-90)" text-anchor="middle" font-size="12.6">DSI</text>
<text x="69.5" y="320.5" font-size="15.2" font-weight="bold" fill="#111">(g)</text>
<line x1="294.4" y1="377.8" x2="453.2" y2="377.8" stroke="#222" stroke-width="1.25" stroke-dasharray="2 2.5"/>
<path d="M308.3 367.6L314.7 374L308.3 380.4L301.9 374Z" fill="#000" stroke="#000" stroke-width="1"/>
<circle cx="308.3" cy="373" r="4.3" fill="#ffffff" stroke="#000" stroke-width="1.15"/>
<circle cx="308.3" cy="373.6" r="4.3" fill="#ffff80" stroke="#000" stroke-width="1.15"/>
<circle cx="308.3" cy="373" r="4.3" fill="#ffff00" stroke="#000" stroke-width="1.15"/>
<circle cx="308.3" cy="369.7" r="4.3" fill="#ff8c00" stroke="#000" stroke-width="1.15"/>
<circle cx="308.3" cy="357.1" r="4.3" fill="#ff0000" stroke="#000" stroke-width="1.15"/>
<path d="M324.7 365.9L331.1 372.3L324.7 378.7L318.3 372.3Z" fill="#000" stroke="#000" stroke-width="1"/>
<circle cx="324.7" cy="366" r="4.3" fill="#ffffff" stroke="#000" stroke-width="1.15"/>
<circle cx="324.7" cy="365.4" r="4.3" fill="#ffff80" stroke="#000" stroke-width="1.15"/>
<circle cx="324.7" cy="363.4" r="4.3" fill="#ffff00" stroke="#000" stroke-width="1.15"/>
<circle cx="324.7" cy="359.2" r="4.3" fill="#ff8c00" stroke="#000" stroke-width="1.15"/>
<circle cx="324.7" cy="353.1" r="4.3" fill="#ff0000" stroke="#000" stroke-width="1.15"/>
<path d="M341.1 389.6L347.5 396L341.1 402.4L334.7 396Z" fill="#000" stroke="#000" stroke-width="1"/>
<circle cx="341.1" cy="384" r="4.3" fill="#ffffff" stroke="#000" stroke-width="1.15"/>
<circle cx="341.1" cy="383" r="4.3" fill="#ffff80" stroke="#000" stroke-width="1.15"/>
<circle cx="341.1" cy="385.7" r="4.3" fill="#ffff00" stroke="#000" stroke-width="1.15"/>
<circle cx="341.1" cy="377.2" r="4.3" fill="#ff8c00" stroke="#000" stroke-width="1.15"/>
<circle cx="341.1" cy="371.5" r="4.3" fill="#ff0000" stroke="#000" stroke-width="1.15"/>
<path d="M357.5 383.5L363.9 389.9L357.5 396.3L351.1 389.9Z" fill="#000" stroke="#000" stroke-width="1"/>
<circle cx="357.5" cy="388" r="4.3" fill="#ffffff" stroke="#000" stroke-width="1.15"/>
<circle cx="357.5" cy="388" r="4.3" fill="#ffff80" stroke="#000" stroke-width="1.15"/>
<circle cx="357.5" cy="387.5" r="4.3" fill="#ffff00" stroke="#000" stroke-width="1.15"/>
<circle cx="357.5" cy="387.3" r="4.3" fill="#ff8c00" stroke="#000" stroke-width="1.15"/>
<circle cx="357.5" cy="392.3" r="4.3" fill="#ff0000" stroke="#000" stroke-width="1.15"/>
<path d="M373.9 384.1L380.3 390.5L373.9 396.9L367.5 390.5Z" fill="#000" stroke="#000" stroke-width="1"/>
<circle cx="373.9" cy="398" r="4.3" fill="#ffffff" stroke="#000" stroke-width="1.15"/>
<circle cx="373.9" cy="398" r="4.3" fill="#ffff80" stroke="#000" stroke-width="1.15"/>
<circle cx="373.9" cy="398" r="4.3" fill="#ffff00" stroke="#000" stroke-width="1.15"/>
<circle cx="373.9" cy="397.6" r="4.3" fill="#ff8c00" stroke="#000" stroke-width="1.15"/>
<circle cx="373.9" cy="406.5" r="4.3" fill="#ff0000" stroke="#000" stroke-width="1.15"/>
<path d="M390.3 410.9L396.7 417.3L390.3 423.7L383.9 417.3Z" fill="#000" stroke="#000" stroke-width="1"/>
<circle cx="390.3" cy="407.5" r="4.3" fill="#ffffff" stroke="#000" stroke-width="1.15"/>
<circle cx="390.3" cy="411" r="4.3" fill="#ffff80" stroke="#000" stroke-width="1.15"/>
<circle cx="390.3" cy="411" r="4.3" fill="#ffff00" stroke="#000" stroke-width="1.15"/>
<circle cx="390.3" cy="410.6" r="4.3" fill="#ff8c00" stroke="#000" stroke-width="1.15"/>
<circle cx="390.3" cy="420.7" r="4.3" fill="#ff0000" stroke="#000" stroke-width="1.15"/>
<path d="M406.7 421L413.1 427.4L406.7 433.8L400.3 427.4Z" fill="#000" stroke="#000" stroke-width="1"/>
<circle cx="406.7" cy="429" r="4.3" fill="#ffffff" stroke="#000" stroke-width="1.15"/>
<circle cx="406.7" cy="429" r="4.3" fill="#ffff80" stroke="#000" stroke-width="1.15"/>
<circle cx="406.7" cy="430" r="4.3" fill="#ffff00" stroke="#000" stroke-width="1.15"/>
<circle cx="406.7" cy="430.7" r="4.3" fill="#ff8c00" stroke="#000" stroke-width="1.15"/>
<circle cx="406.7" cy="426" r="4.3" fill="#ff0000" stroke="#000" stroke-width="1.15"/>
<path d="M423.1 381.6L429.5 388L423.1 394.4L416.7 388Z" fill="#000" stroke="#000" stroke-width="1"/>
<circle cx="423.1" cy="372.5" r="4.3" fill="#ffffff" stroke="#000" stroke-width="1.15"/>
<circle cx="423.1" cy="365" r="4.3" fill="#ffff80" stroke="#000" stroke-width="1.15"/>
<circle cx="423.1" cy="372.9" r="4.3" fill="#ffff00" stroke="#000" stroke-width="1.15"/>
<circle cx="423.1" cy="355.6" r="4.3" fill="#ff8c00" stroke="#000" stroke-width="1.15"/>
<circle cx="423.1" cy="329.2" r="4.3" fill="#ff0000" stroke="#000" stroke-width="1.15"/>
<path d="M439.5 413.9L445.9 420.3L439.5 426.7L433.1 420.3Z" fill="#000" stroke="#000" stroke-width="1"/>
<circle cx="439.5" cy="422.7" r="4.3" fill="#ffffff" stroke="#000" stroke-width="1.15"/>
<circle cx="439.5" cy="422.7" r="4.3" fill="#ffff80" stroke="#000" stroke-width="1.15"/>
<circle cx="439.5" cy="427.4" r="4.3" fill="#ffff00" stroke="#000" stroke-width="1.15"/>
<circle cx="439.5" cy="432.8" r="4.3" fill="#ff8c00" stroke="#000" stroke-width="1.15"/>
<circle cx="439.5" cy="408.6" r="4.3" fill="#ff0000" stroke="#000" stroke-width="1.15"/>
<rect x="294.6" y="304.5" width="158.6" height="136.1" fill="none" stroke="#1a1a1a" stroke-width="1.25"/>
<line x1="286.6" y1="309.7" x2="294.6" y2="309.7" stroke="#111" stroke-width="1.35"/>
<text x="279" y="314.6" text-anchor="end" font-size="12.6" fill="#111">70</text>
<line x1="286.6" y1="341.2" x2="294.6" y2="341.2" stroke="#111" stroke-width="1.35"/>
<text x="279" y="346.1" text-anchor="end" font-size="12.6" fill="#111">60</text>
<line x1="286.6" y1="372.7" x2="294.6" y2="372.7" stroke="#111" stroke-width="1.35"/>
<text x="279" y="377.6" text-anchor="end" font-size="12.6" fill="#111">50</text>
<line x1="286.6" y1="404.1" x2="294.6" y2="404.1" stroke="#111" stroke-width="1.35"/>
<text x="279" y="409" text-anchor="end" font-size="12.6" fill="#111">40</text>
<line x1="286.6" y1="435.6" x2="294.6" y2="435.6" stroke="#111" stroke-width="1.35"/>
<text x="279" y="440.5" text-anchor="end" font-size="12.6" fill="#111">30</text>
<text transform="translate(244.2 372.55) rotate(-90)" text-anchor="middle" font-size="12.6">BHQ [%]</text>
<text x="301.9" y="320.5" font-size="15.2" font-weight="bold" fill="#111">(h)</text>
<line x1="524.2" y1="399.3" x2="683" y2="399.3" stroke="#222" stroke-width="1.25" stroke-dasharray="2 2.5"/>
<path d="M538.1 333.3L544.5 339.7L538.1 346.1L531.7 339.7Z" fill="#000" stroke="#000" stroke-width="1"/>
<circle cx="538.1" cy="350" r="4.3" fill="#ffffff" stroke="#000" stroke-width="1.15"/>
<circle cx="538.1" cy="351" r="4.3" fill="#ffff80" stroke="#000" stroke-width="1.15"/>
<circle cx="538.1" cy="349.8" r="4.3" fill="#ffff00" stroke="#000" stroke-width="1.15"/>
<circle cx="538.1" cy="357.9" r="4.3" fill="#ff8c00" stroke="#000" stroke-width="1.15"/>
<circle cx="538.1" cy="372.3" r="4.3" fill="#ff0000" stroke="#000" stroke-width="1.15"/>
<path d="M554.5 332.3L560.9 338.7L554.5 345.1L548.1 338.7Z" fill="#000" stroke="#000" stroke-width="1"/>
<circle cx="554.5" cy="343.9" r="4.3" fill="#ffffff" stroke="#000" stroke-width="1.15"/>
<circle cx="554.5" cy="347.2" r="4.3" fill="#ffff80" stroke="#000" stroke-width="1.15"/>
<circle cx="554.5" cy="352.4" r="4.3" fill="#ffff00" stroke="#000" stroke-width="1.15"/>
<circle cx="554.5" cy="352.4" r="4.3" fill="#ff8c00" stroke="#000" stroke-width="1.15"/>
<circle cx="554.5" cy="366.1" r="4.3" fill="#ff0000" stroke="#000" stroke-width="1.15"/>
<path d="M570.9 340.2L577.3 346.6L570.9 353L564.5 346.6Z" fill="#000" stroke="#000" stroke-width="1"/>
<circle cx="570.9" cy="355" r="4.3" fill="#ffffff" stroke="#000" stroke-width="1.15"/>
<circle cx="570.9" cy="355" r="4.3" fill="#ffff80" stroke="#000" stroke-width="1.15"/>
<circle cx="570.9" cy="339.2" r="4.3" fill="#ffff00" stroke="#000" stroke-width="1.15"/>
<circle cx="570.9" cy="355.4" r="4.3" fill="#ff8c00" stroke="#000" stroke-width="1.15"/>
<circle cx="570.9" cy="373.8" r="4.3" fill="#ff0000" stroke="#000" stroke-width="1.15"/>
<path d="M587.3 334.2L593.7 340.6L587.3 347L580.9 340.6Z" fill="#000" stroke="#000" stroke-width="1"/>
<circle cx="587.3" cy="346" r="4.3" fill="#ffffff" stroke="#000" stroke-width="1.15"/>
<circle cx="587.3" cy="351.3" r="4.3" fill="#ffff80" stroke="#000" stroke-width="1.15"/>
<circle cx="587.3" cy="357.5" r="4.3" fill="#ffff00" stroke="#000" stroke-width="1.15"/>
<circle cx="587.3" cy="357.5" r="4.3" fill="#ff8c00" stroke="#000" stroke-width="1.15"/>
<circle cx="587.3" cy="365.3" r="4.3" fill="#ff0000" stroke="#000" stroke-width="1.15"/>
<path d="M603.7 353.4L610.1 359.8L603.7 366.2L597.3 359.8Z" fill="#000" stroke="#000" stroke-width="1"/>
<circle cx="603.7" cy="366" r="4.3" fill="#ffffff" stroke="#000" stroke-width="1.15"/>
<circle cx="603.7" cy="363.5" r="4.3" fill="#ffff80" stroke="#000" stroke-width="1.15"/>
<circle cx="603.7" cy="367" r="4.3" fill="#ffff00" stroke="#000" stroke-width="1.15"/>
<circle cx="603.7" cy="367" r="4.3" fill="#ff8c00" stroke="#000" stroke-width="1.15"/>
<circle cx="603.7" cy="373.5" r="4.3" fill="#ff0000" stroke="#000" stroke-width="1.15"/>
<path d="M620.1 356.1L626.5 362.5L620.1 368.9L613.7 362.5Z" fill="#000" stroke="#000" stroke-width="1"/>
<circle cx="620.1" cy="359" r="4.3" fill="#ffffff" stroke="#000" stroke-width="1.15"/>
<circle cx="620.1" cy="359" r="4.3" fill="#ffff80" stroke="#000" stroke-width="1.15"/>
<circle cx="620.1" cy="359" r="4.3" fill="#ffff00" stroke="#000" stroke-width="1.15"/>
<circle cx="620.1" cy="359.3" r="4.3" fill="#ff8c00" stroke="#000" stroke-width="1.15"/>
<circle cx="620.1" cy="379" r="4.3" fill="#ff0000" stroke="#000" stroke-width="1.15"/>
<path d="M636.5 341.2L642.9 347.6L636.5 354L630.1 347.6Z" fill="#000" stroke="#000" stroke-width="1"/>
<circle cx="636.5" cy="358" r="4.3" fill="#ffffff" stroke="#000" stroke-width="1.15"/>
<circle cx="636.5" cy="359" r="4.3" fill="#ffff80" stroke="#000" stroke-width="1.15"/>
<circle cx="636.5" cy="354" r="4.3" fill="#ffff00" stroke="#000" stroke-width="1.15"/>
<circle cx="636.5" cy="357.7" r="4.3" fill="#ff8c00" stroke="#000" stroke-width="1.15"/>
<circle cx="636.5" cy="371.5" r="4.3" fill="#ff0000" stroke="#000" stroke-width="1.15"/>
<path d="M652.9 321.8L659.3 328.2L652.9 334.6L646.5 328.2Z" fill="#000" stroke="#000" stroke-width="1"/>
<circle cx="652.9" cy="336" r="4.3" fill="#ffffff" stroke="#000" stroke-width="1.15"/>
<circle cx="652.9" cy="335.7" r="4.3" fill="#ffff80" stroke="#000" stroke-width="1.15"/>
<circle cx="652.9" cy="329.9" r="4.3" fill="#ffff00" stroke="#000" stroke-width="1.15"/>
<circle cx="652.9" cy="340.8" r="4.3" fill="#ff8c00" stroke="#000" stroke-width="1.15"/>
<circle cx="652.9" cy="353.2" r="4.3" fill="#ff0000" stroke="#000" stroke-width="1.15"/>
<path d="M669.3 331.1L675.7 337.5L669.3 343.9L662.9 337.5Z" fill="#000" stroke="#000" stroke-width="1"/>
<circle cx="669.3" cy="344.2" r="4.3" fill="#ffffff" stroke="#000" stroke-width="1.15"/>
<circle cx="669.3" cy="352.5" r="4.3" fill="#ffff80" stroke="#000" stroke-width="1.15"/>
<circle cx="669.3" cy="349.8" r="4.3" fill="#ffff00" stroke="#000" stroke-width="1.15"/>
<circle cx="669.3" cy="349.8" r="4.3" fill="#ff8c00" stroke="#000" stroke-width="1.15"/>
<circle cx="669.3" cy="370" r="4.3" fill="#ff0000" stroke="#000" stroke-width="1.15"/>
<rect x="524.4" y="304.5" width="158.6" height="136.1" fill="none" stroke="#1a1a1a" stroke-width="1.25"/>
<line x1="516.4" y1="309.7" x2="524.4" y2="309.7" stroke="#111" stroke-width="1.35"/>
<text x="508.8" y="314.6" text-anchor="end" font-size="12.6" fill="#111">1.0</text>
<line x1="516.4" y1="330.7" x2="524.4" y2="330.7" stroke="#111" stroke-width="1.35"/>
<text x="508.8" y="335.6" text-anchor="end" font-size="12.6" fill="#111">0.9</text>
<line x1="516.4" y1="351.7" x2="524.4" y2="351.7" stroke="#111" stroke-width="1.35"/>
<text x="508.8" y="356.6" text-anchor="end" font-size="12.6" fill="#111">0.8</text>
<line x1="516.4" y1="372.7" x2="524.4" y2="372.7" stroke="#111" stroke-width="1.35"/>
<text x="508.8" y="377.6" text-anchor="end" font-size="12.6" fill="#111">0.7</text>
<line x1="516.4" y1="393.6" x2="524.4" y2="393.6" stroke="#111" stroke-width="1.35"/>
<text x="508.8" y="398.5" text-anchor="end" font-size="12.6" fill="#111">0.6</text>
<line x1="516.4" y1="414.6" x2="524.4" y2="414.6" stroke="#111" stroke-width="1.35"/>
<text x="508.8" y="419.5" text-anchor="end" font-size="12.6" fill="#111">0.5</text>
<line x1="516.4" y1="435.6" x2="524.4" y2="435.6" stroke="#111" stroke-width="1.35"/>
<text x="508.8" y="440.5" text-anchor="end" font-size="12.6" fill="#111">0.4</text>
<text transform="translate(474 372.55) rotate(-90)" text-anchor="middle" font-size="12.6">API</text>
<text x="530.5" y="320.5" font-size="15.2" font-weight="bold" fill="#111">(i)</text>
<line x1="64.3" y1="563.1" x2="223.1" y2="563.1" stroke="#222" stroke-width="1.25" stroke-dasharray="2 2.5"/>
<path d="M78.2 497.4L84.6 503.8L78.2 510.2L71.8 503.8Z" fill="#000" stroke="#000" stroke-width="1"/>
<circle cx="78.2" cy="507.2" r="4.3" fill="#ffffff" stroke="#000" stroke-width="1.15"/>
<circle cx="78.2" cy="507.5" r="4.3" fill="#ffff80" stroke="#000" stroke-width="1.15"/>
<circle cx="78.2" cy="500" r="4.3" fill="#ffff00" stroke="#000" stroke-width="1.15"/>
<circle cx="78.2" cy="503.1" r="4.3" fill="#ff8c00" stroke="#000" stroke-width="1.15"/>
<circle cx="78.2" cy="526.8" r="4.3" fill="#ff0000" stroke="#000" stroke-width="1.15"/>
<path d="M94.6 496.4L101 502.8L94.6 509.2L88.2 502.8Z" fill="#000" stroke="#000" stroke-width="1"/>
<circle cx="94.6" cy="506.6" r="4.3" fill="#ffffff" stroke="#000" stroke-width="1.15"/>
<circle cx="94.6" cy="506.9" r="4.3" fill="#ffff80" stroke="#000" stroke-width="1.15"/>
<circle cx="94.6" cy="500.6" r="4.3" fill="#ffff00" stroke="#000" stroke-width="1.15"/>
<circle cx="94.6" cy="502.3" r="4.3" fill="#ff8c00" stroke="#000" stroke-width="1.15"/>
<circle cx="94.6" cy="530.9" r="4.3" fill="#ff0000" stroke="#000" stroke-width="1.15"/>
<path d="M111 507.9L117.4 514.3L111 520.7L104.6 514.3Z" fill="#000" stroke="#000" stroke-width="1"/>
<circle cx="111" cy="517.1" r="4.3" fill="#ffffff" stroke="#000" stroke-width="1.15"/>
<circle cx="111" cy="517.4" r="4.3" fill="#ffff80" stroke="#000" stroke-width="1.15"/>
<circle cx="111" cy="511" r="4.3" fill="#ffff00" stroke="#000" stroke-width="1.15"/>
<circle cx="111" cy="514.8" r="4.3" fill="#ff8c00" stroke="#000" stroke-width="1.15"/>
<circle cx="111" cy="532.6" r="4.3" fill="#ff0000" stroke="#000" stroke-width="1.15"/>
<path d="M127.4 506.4L133.8 512.8L127.4 519.2L121 512.8Z" fill="#000" stroke="#000" stroke-width="1"/>
<circle cx="127.4" cy="516" r="4.3" fill="#ffffff" stroke="#000" stroke-width="1.15"/>
<circle cx="127.4" cy="516.3" r="4.3" fill="#ffff80" stroke="#000" stroke-width="1.15"/>
<circle cx="127.4" cy="508" r="4.3" fill="#ffff00" stroke="#000" stroke-width="1.15"/>
<circle cx="127.4" cy="512.8" r="4.3" fill="#ff8c00" stroke="#000" stroke-width="1.15"/>
<circle cx="127.4" cy="532.6" r="4.3" fill="#ff0000" stroke="#000" stroke-width="1.15"/>
<path d="M143.8 512.2L150.2 518.6L143.8 525L137.4 518.6Z" fill="#000" stroke="#000" stroke-width="1"/>
<circle cx="143.8" cy="520.7" r="4.3" fill="#ffffff" stroke="#000" stroke-width="1.15"/>
<circle cx="143.8" cy="521" r="4.3" fill="#ffff80" stroke="#000" stroke-width="1.15"/>
<circle cx="143.8" cy="514.8" r="4.3" fill="#ffff00" stroke="#000" stroke-width="1.15"/>
<circle cx="143.8" cy="519" r="4.3" fill="#ff8c00" stroke="#000" stroke-width="1.15"/>
<circle cx="143.8" cy="542.5" r="4.3" fill="#ff0000" stroke="#000" stroke-width="1.15"/>
<path d="M160.2 537.8L166.6 544.2L160.2 550.6L153.8 544.2Z" fill="#000" stroke="#000" stroke-width="1"/>
<circle cx="160.2" cy="547.4" r="4.3" fill="#ffffff" stroke="#000" stroke-width="1.15"/>
<circle cx="160.2" cy="547.7" r="4.3" fill="#ffff80" stroke="#000" stroke-width="1.15"/>
<circle cx="160.2" cy="539.3" r="4.3" fill="#ffff00" stroke="#000" stroke-width="1.15"/>
<circle cx="160.2" cy="542.8" r="4.3" fill="#ff8c00" stroke="#000" stroke-width="1.15"/>
<circle cx="160.2" cy="562.1" r="4.3" fill="#ff0000" stroke="#000" stroke-width="1.15"/>
<path d="M176.6 519.3L183 525.7L176.6 532.1L170.2 525.7Z" fill="#000" stroke="#000" stroke-width="1"/>
<circle cx="176.6" cy="525" r="4.3" fill="#ffffff" stroke="#000" stroke-width="1.15"/>
<circle cx="176.6" cy="525.3" r="4.3" fill="#ffff80" stroke="#000" stroke-width="1.15"/>
<circle cx="176.6" cy="515.5" r="4.3" fill="#ffff00" stroke="#000" stroke-width="1.15"/>
<circle cx="176.6" cy="517.6" r="4.3" fill="#ff8c00" stroke="#000" stroke-width="1.15"/>
<circle cx="176.6" cy="533.3" r="4.3" fill="#ff0000" stroke="#000" stroke-width="1.15"/>
<path d="M193 482.4L199.4 488.8L193 495.2L186.6 488.8Z" fill="#000" stroke="#000" stroke-width="1"/>
<circle cx="193" cy="490.4" r="4.3" fill="#ffffff" stroke="#000" stroke-width="1.15"/>
<circle cx="193" cy="490.7" r="4.3" fill="#ffff80" stroke="#000" stroke-width="1.15"/>
<circle cx="193" cy="488" r="4.3" fill="#ffff00" stroke="#000" stroke-width="1.15"/>
<circle cx="193" cy="490.7" r="4.3" fill="#ff8c00" stroke="#000" stroke-width="1.15"/>
<circle cx="193" cy="504.3" r="4.3" fill="#ff0000" stroke="#000" stroke-width="1.15"/>
<path d="M209.4 478.8L215.8 485.2L209.4 491.6L203 485.2Z" fill="#000" stroke="#000" stroke-width="1"/>
<circle cx="209.4" cy="485.7" r="4.3" fill="#ffffff" stroke="#000" stroke-width="1.15"/>
<circle cx="209.4" cy="486" r="4.3" fill="#ffff80" stroke="#000" stroke-width="1.15"/>
<circle cx="209.4" cy="486" r="4.3" fill="#ffff00" stroke="#000" stroke-width="1.15"/>
<circle cx="209.4" cy="486.5" r="4.3" fill="#ff8c00" stroke="#000" stroke-width="1.15"/>
<circle cx="209.4" cy="494.1" r="4.3" fill="#ff0000" stroke="#000" stroke-width="1.15"/>
<rect x="64.5" y="455.7" width="158.6" height="136.5" fill="none" stroke="#1a1a1a" stroke-width="1.25"/>
<line x1="56.5" y1="460.6" x2="64.5" y2="460.6" stroke="#111" stroke-width="1.35"/>
<text x="48.9" y="465.5" text-anchor="end" font-size="12.6" fill="#111">90</text>
<line x1="56.5" y1="481.8" x2="64.5" y2="481.8" stroke="#111" stroke-width="1.35"/>
<text x="48.9" y="486.7" text-anchor="end" font-size="12.6" fill="#111">80</text>
<line x1="56.5" y1="503" x2="64.5" y2="503" stroke="#111" stroke-width="1.35"/>
<text x="48.9" y="507.9" text-anchor="end" font-size="12.6" fill="#111">70</text>
<line x1="56.5" y1="524.2" x2="64.5" y2="524.2" stroke="#111" stroke-width="1.35"/>
<text x="48.9" y="529.1" text-anchor="end" font-size="12.6" fill="#111">60</text>
<line x1="56.5" y1="545.4" x2="64.5" y2="545.4" stroke="#111" stroke-width="1.35"/>
<text x="48.9" y="550.3" text-anchor="end" font-size="12.6" fill="#111">50</text>
<line x1="56.5" y1="566.6" x2="64.5" y2="566.6" stroke="#111" stroke-width="1.35"/>
<text x="48.9" y="571.5" text-anchor="end" font-size="12.6" fill="#111">40</text>
<line x1="56.5" y1="587.8" x2="64.5" y2="587.8" stroke="#111" stroke-width="1.35"/>
<text x="48.9" y="592.7" text-anchor="end" font-size="12.6" fill="#111">30</text>
<text transform="translate(14.1 523.95) rotate(-90)" text-anchor="middle" font-size="12.6">LPI [%]</text>
<text x="69.5" y="475.1" font-size="15.2" font-weight="bold" fill="#111">(j)</text>
<line x1="78.2" y1="592.2" x2="78.2" y2="599.8" stroke="#111" stroke-width="1.35"/>
<text transform="translate(82.6 607.9) rotate(-90)" text-anchor="end" font-size="12.6" fill="#111">SLIT-LO</text>
<line x1="94.6" y1="592.2" x2="94.6" y2="599.8" stroke="#111" stroke-width="1.35"/>
<text transform="translate(99 607.9) rotate(-90)" text-anchor="end" font-size="12.6" fill="#111">PATCH-LO</text>
<line x1="111" y1="592.2" x2="111" y2="599.8" stroke="#111" stroke-width="1.35"/>
<text transform="translate(115.4 607.9) rotate(-90)" text-anchor="end" font-size="12.6" fill="#111">STRIP-LO</text>
<line x1="127.4" y1="592.2" x2="127.4" y2="599.8" stroke="#111" stroke-width="1.35"/>
<text transform="translate(131.8 607.9) rotate(-90)" text-anchor="end" font-size="12.6" fill="#111">SLIT-HI</text>
<line x1="143.8" y1="592.2" x2="143.8" y2="599.8" stroke="#111" stroke-width="1.35"/>
<text transform="translate(148.2 607.9) rotate(-90)" text-anchor="end" font-size="12.6" fill="#111">PATCH-HI</text>
<line x1="160.2" y1="592.2" x2="160.2" y2="599.8" stroke="#111" stroke-width="1.35"/>
<text transform="translate(164.6 607.9) rotate(-90)" text-anchor="end" font-size="12.6" fill="#111">STRIP-HI</text>
<line x1="176.6" y1="592.2" x2="176.6" y2="599.8" stroke="#111" stroke-width="1.35"/>
<text transform="translate(181 607.9) rotate(-90)" text-anchor="end" font-size="12.6" fill="#111">STRIP-HI-P</text>
<line x1="193" y1="592.2" x2="193" y2="599.8" stroke="#111" stroke-width="1.35"/>
<text transform="translate(197.4 607.9) rotate(-90)" text-anchor="end" font-size="12.6" fill="#111">NOM</text>
<line x1="209.4" y1="592.2" x2="209.4" y2="599.8" stroke="#111" stroke-width="1.35"/>
<text transform="translate(213.8 607.9) rotate(-90)" text-anchor="end" font-size="12.6" fill="#111">SAN</text>
<line x1="294.4" y1="553.6" x2="453.2" y2="553.6" stroke="#222" stroke-width="1.25" stroke-dasharray="2 2.5"/>
<path d="M308.3 518.3L314.7 524.7L308.3 531.1L301.9 524.7Z" fill="#000" stroke="#000" stroke-width="1"/>
<circle cx="308.3" cy="518.4" r="4.3" fill="#ffffff" stroke="#000" stroke-width="1.15"/>
<circle cx="308.3" cy="536.5" r="4.3" fill="#ffff80" stroke="#000" stroke-width="1.15"/>
<circle cx="308.3" cy="521.4" r="4.3" fill="#ffff00" stroke="#000" stroke-width="1.15"/>
<circle cx="308.3" cy="527.6" r="4.3" fill="#ff8c00" stroke="#000" stroke-width="1.15"/>
<circle cx="308.3" cy="554.9" r="4.3" fill="#ff0000" stroke="#000" stroke-width="1.15"/>
<path d="M324.7 515.7L331.1 522.1L324.7 528.5L318.3 522.1Z" fill="#000" stroke="#000" stroke-width="1"/>
<circle cx="324.7" cy="517" r="4.3" fill="#ffffff" stroke="#000" stroke-width="1.15"/>
<circle cx="324.7" cy="532.9" r="4.3" fill="#ffff80" stroke="#000" stroke-width="1.15"/>
<circle cx="324.7" cy="517.5" r="4.3" fill="#ffff00" stroke="#000" stroke-width="1.15"/>
<circle cx="324.7" cy="524.4" r="4.3" fill="#ff8c00" stroke="#000" stroke-width="1.15"/>
<circle cx="324.7" cy="553" r="4.3" fill="#ff0000" stroke="#000" stroke-width="1.15"/>
<path d="M341.1 534.1L347.5 540.5L341.1 546.9L334.7 540.5Z" fill="#000" stroke="#000" stroke-width="1"/>
<circle cx="341.1" cy="540.5" r="4.3" fill="#ffffff" stroke="#000" stroke-width="1.15"/>
<circle cx="341.1" cy="547.7" r="4.3" fill="#ffff80" stroke="#000" stroke-width="1.15"/>
<circle cx="341.1" cy="536" r="4.3" fill="#ffff00" stroke="#000" stroke-width="1.15"/>
<circle cx="341.1" cy="540.5" r="4.3" fill="#ff8c00" stroke="#000" stroke-width="1.15"/>
<circle cx="341.1" cy="563.5" r="4.3" fill="#ff0000" stroke="#000" stroke-width="1.15"/>
<path d="M357.5 537.8L363.9 544.2L357.5 550.6L351.1 544.2Z" fill="#000" stroke="#000" stroke-width="1"/>
<circle cx="357.5" cy="544.2" r="4.3" fill="#ffffff" stroke="#000" stroke-width="1.15"/>
<circle cx="357.5" cy="552" r="4.3" fill="#ffff80" stroke="#000" stroke-width="1.15"/>
<circle cx="357.5" cy="540.7" r="4.3" fill="#ffff00" stroke="#000" stroke-width="1.15"/>
<circle cx="357.5" cy="544.2" r="4.3" fill="#ff8c00" stroke="#000" stroke-width="1.15"/>
<circle cx="357.5" cy="567.4" r="4.3" fill="#ff0000" stroke="#000" stroke-width="1.15"/>
<path d="M373.9 544.8L380.3 551.2L373.9 557.6L367.5 551.2Z" fill="#000" stroke="#000" stroke-width="1"/>
<circle cx="373.9" cy="550.7" r="4.3" fill="#ffffff" stroke="#000" stroke-width="1.15"/>
<circle cx="373.9" cy="559.5" r="4.3" fill="#ffff80" stroke="#000" stroke-width="1.15"/>
<circle cx="373.9" cy="546.6" r="4.3" fill="#ffff00" stroke="#000" stroke-width="1.15"/>
<circle cx="373.9" cy="550.7" r="4.3" fill="#ff8c00" stroke="#000" stroke-width="1.15"/>
<circle cx="373.9" cy="576.6" r="4.3" fill="#ff0000" stroke="#000" stroke-width="1.15"/>
<path d="M390.3 557.7L396.7 564.1L390.3 570.5L383.9 564.1Z" fill="#000" stroke="#000" stroke-width="1"/>
<circle cx="390.3" cy="563" r="4.3" fill="#ffffff" stroke="#000" stroke-width="1.15"/>
<circle cx="390.3" cy="567.4" r="4.3" fill="#ffff80" stroke="#000" stroke-width="1.15"/>
<circle cx="390.3" cy="558.5" r="4.3" fill="#ffff00" stroke="#000" stroke-width="1.15"/>
<circle cx="390.3" cy="559.8" r="4.3" fill="#ff8c00" stroke="#000" stroke-width="1.15"/>
<circle cx="390.3" cy="581.1" r="4.3" fill="#ff0000" stroke="#000" stroke-width="1.15"/>
<path d="M406.7 544.6L413.1 551L406.7 557.4L400.3 551Z" fill="#000" stroke="#000" stroke-width="1"/>
<circle cx="406.7" cy="550.5" r="4.3" fill="#ffffff" stroke="#000" stroke-width="1.15"/>
<circle cx="406.7" cy="550.5" r="4.3" fill="#ffff80" stroke="#000" stroke-width="1.15"/>
<circle cx="406.7" cy="542.3" r="4.3" fill="#ffff00" stroke="#000" stroke-width="1.15"/>
<circle cx="406.7" cy="542.3" r="4.3" fill="#ff8c00" stroke="#000" stroke-width="1.15"/>
<circle cx="406.7" cy="561.4" r="4.3" fill="#ff0000" stroke="#000" stroke-width="1.15"/>
<path d="M423.1 458.2L429.5 464.6L423.1 471L416.7 464.6Z" fill="#000" stroke="#000" stroke-width="1"/>
<circle cx="423.1" cy="487" r="4.3" fill="#ffffff" stroke="#000" stroke-width="1.15"/>
<circle cx="423.1" cy="486" r="4.3" fill="#ffff80" stroke="#000" stroke-width="1.15"/>
<circle cx="423.1" cy="470" r="4.3" fill="#ffff00" stroke="#000" stroke-width="1.15"/>
<circle cx="423.1" cy="483.7" r="4.3" fill="#ff8c00" stroke="#000" stroke-width="1.15"/>
<circle cx="423.1" cy="521.5" r="4.3" fill="#ff0000" stroke="#000" stroke-width="1.15"/>
<path d="M439.5 458.2L445.9 464.6L439.5 471L433.1 464.6Z" fill="#000" stroke="#000" stroke-width="1"/>
<circle cx="439.5" cy="476" r="4.3" fill="#ffffff" stroke="#000" stroke-width="1.15"/>
<circle cx="439.5" cy="476.4" r="4.3" fill="#ffff80" stroke="#000" stroke-width="1.15"/>
<circle cx="439.5" cy="463" r="4.3" fill="#ffff00" stroke="#000" stroke-width="1.15"/>
<circle cx="439.5" cy="465.8" r="4.3" fill="#ff8c00" stroke="#000" stroke-width="1.15"/>
<circle cx="439.5" cy="503.7" r="4.3" fill="#ff0000" stroke="#000" stroke-width="1.15"/>
<rect x="294.6" y="455.7" width="158.6" height="136.5" fill="none" stroke="#1a1a1a" stroke-width="1.25"/>
<line x1="286.6" y1="460.6" x2="294.6" y2="460.6" stroke="#111" stroke-width="1.35"/>
<text x="279" y="465.5" text-anchor="end" font-size="12.6" fill="#111">1.0</text>
<line x1="286.6" y1="478.8" x2="294.6" y2="478.8" stroke="#111" stroke-width="1.35"/>
<text x="279" y="483.7" text-anchor="end" font-size="12.6" fill="#111">0.9</text>
<line x1="286.6" y1="497.1" x2="294.6" y2="497.1" stroke="#111" stroke-width="1.35"/>
<text x="279" y="502" text-anchor="end" font-size="12.6" fill="#111">0.8</text>
<line x1="286.6" y1="515.3" x2="294.6" y2="515.3" stroke="#111" stroke-width="1.35"/>
<text x="279" y="520.2" text-anchor="end" font-size="12.6" fill="#111">0.7</text>
<line x1="286.6" y1="533.5" x2="294.6" y2="533.5" stroke="#111" stroke-width="1.35"/>
<text x="279" y="538.4" text-anchor="end" font-size="12.6" fill="#111">0.6</text>
<line x1="286.6" y1="551.8" x2="294.6" y2="551.8" stroke="#111" stroke-width="1.35"/>
<text x="279" y="556.7" text-anchor="end" font-size="12.6" fill="#111">0.5</text>
<line x1="286.6" y1="570" x2="294.6" y2="570" stroke="#111" stroke-width="1.35"/>
<text x="279" y="574.9" text-anchor="end" font-size="12.6" fill="#111">0.4</text>
<line x1="286.6" y1="588.2" x2="294.6" y2="588.2" stroke="#111" stroke-width="1.35"/>
<text x="279" y="593.1" text-anchor="end" font-size="12.6" fill="#111">0.3</text>
<text transform="translate(244.2 523.95) rotate(-90)" text-anchor="middle" font-size="12.6">RPI</text>
<text x="301.9" y="475.1" font-size="15.2" font-weight="bold" fill="#111">(k)</text>
<line x1="308.3" y1="592.2" x2="308.3" y2="599.8" stroke="#111" stroke-width="1.35"/>
<text transform="translate(312.7 607.9) rotate(-90)" text-anchor="end" font-size="12.6" fill="#111">SLIT-LO</text>
<line x1="324.7" y1="592.2" x2="324.7" y2="599.8" stroke="#111" stroke-width="1.35"/>
<text transform="translate(329.1 607.9) rotate(-90)" text-anchor="end" font-size="12.6" fill="#111">PATCH-LO</text>
<line x1="341.1" y1="592.2" x2="341.1" y2="599.8" stroke="#111" stroke-width="1.35"/>
<text transform="translate(345.5 607.9) rotate(-90)" text-anchor="end" font-size="12.6" fill="#111">STRIP-LO</text>
<line x1="357.5" y1="592.2" x2="357.5" y2="599.8" stroke="#111" stroke-width="1.35"/>
<text transform="translate(361.9 607.9) rotate(-90)" text-anchor="end" font-size="12.6" fill="#111">SLIT-HI</text>
<line x1="373.9" y1="592.2" x2="373.9" y2="599.8" stroke="#111" stroke-width="1.35"/>
<text transform="translate(378.3 607.9) rotate(-90)" text-anchor="end" font-size="12.6" fill="#111">PATCH-HI</text>
<line x1="390.3" y1="592.2" x2="390.3" y2="599.8" stroke="#111" stroke-width="1.35"/>
<text transform="translate(394.7 607.9) rotate(-90)" text-anchor="end" font-size="12.6" fill="#111">STRIP-HI</text>
<line x1="406.7" y1="592.2" x2="406.7" y2="599.8" stroke="#111" stroke-width="1.35"/>
<text transform="translate(411.1 607.9) rotate(-90)" text-anchor="end" font-size="12.6" fill="#111">STRIP-HI-P</text>
<line x1="423.1" y1="592.2" x2="423.1" y2="599.8" stroke="#111" stroke-width="1.35"/>
<text transform="translate(427.5 607.9) rotate(-90)" text-anchor="end" font-size="12.6" fill="#111">NOM</text>
<line x1="439.5" y1="592.2" x2="439.5" y2="599.8" stroke="#111" stroke-width="1.35"/>
<text transform="translate(443.9 607.9) rotate(-90)" text-anchor="end" font-size="12.6" fill="#111">SAN</text>
<line x1="524.2" y1="508.1" x2="683" y2="508.1" stroke="#222" stroke-width="1.25" stroke-dasharray="2 2.5"/>
<path d="M538.1 508.3L544.5 514.7L538.1 521.1L531.7 514.7Z" fill="#000" stroke="#000" stroke-width="1"/>
<circle cx="538.1" cy="507.9" r="4.3" fill="#ffffff" stroke="#000" stroke-width="1.15"/>
<circle cx="538.1" cy="500" r="4.3" fill="#ffff80" stroke="#000" stroke-width="1.15"/>
<circle cx="538.1" cy="491.5" r="4.3" fill="#ffff00" stroke="#000" stroke-width="1.15"/>
<circle cx="538.1" cy="503.2" r="4.3" fill="#ff8c00" stroke="#000" stroke-width="1.15"/>
<circle cx="538.1" cy="499.1" r="4.3" fill="#ff0000" stroke="#000" stroke-width="1.15"/>
<path d="M554.5 508.3L560.9 514.7L554.5 521.1L548.1 514.7Z" fill="#000" stroke="#000" stroke-width="1"/>
<circle cx="554.5" cy="507.9" r="4.3" fill="#ffffff" stroke="#000" stroke-width="1.15"/>
<circle cx="554.5" cy="501" r="4.3" fill="#ffff80" stroke="#000" stroke-width="1.15"/>
<circle cx="554.5" cy="497" r="4.3" fill="#ffff00" stroke="#000" stroke-width="1.15"/>
<circle cx="554.5" cy="496" r="4.3" fill="#ff8c00" stroke="#000" stroke-width="1.15"/>
<circle cx="554.5" cy="499.1" r="4.3" fill="#ff0000" stroke="#000" stroke-width="1.15"/>
<path d="M570.9 527.2L577.3 533.6L570.9 540L564.5 533.6Z" fill="#000" stroke="#000" stroke-width="1"/>
<circle cx="570.9" cy="521" r="4.3" fill="#ffffff" stroke="#000" stroke-width="1.15"/>
<circle cx="570.9" cy="508" r="4.3" fill="#ffff80" stroke="#000" stroke-width="1.15"/>
<circle cx="570.9" cy="509" r="4.3" fill="#ffff00" stroke="#000" stroke-width="1.15"/>
<circle cx="570.9" cy="507" r="4.3" fill="#ff8c00" stroke="#000" stroke-width="1.15"/>
<circle cx="570.9" cy="505.3" r="4.3" fill="#ff0000" stroke="#000" stroke-width="1.15"/>
<path d="M587.3 474L593.7 480.4L587.3 486.8L580.9 480.4Z" fill="#000" stroke="#000" stroke-width="1"/>
<circle cx="587.3" cy="473.8" r="4.3" fill="#ffffff" stroke="#000" stroke-width="1.15"/>
<circle cx="587.3" cy="473.8" r="4.3" fill="#ffff80" stroke="#000" stroke-width="1.15"/>
<circle cx="587.3" cy="470.6" r="4.3" fill="#ffff00" stroke="#000" stroke-width="1.15"/>
<circle cx="587.3" cy="473.8" r="4.3" fill="#ff8c00" stroke="#000" stroke-width="1.15"/>
<circle cx="587.3" cy="473.8" r="4.3" fill="#ff0000" stroke="#000" stroke-width="1.15"/>
<path d="M603.7 477L610.1 483.4L603.7 489.8L597.3 483.4Z" fill="#000" stroke="#000" stroke-width="1"/>
<circle cx="603.7" cy="476.9" r="4.3" fill="#ffffff" stroke="#000" stroke-width="1.15"/>
<circle cx="603.7" cy="476.9" r="4.3" fill="#ffff80" stroke="#000" stroke-width="1.15"/>
<circle cx="603.7" cy="474.1" r="4.3" fill="#ffff00" stroke="#000" stroke-width="1.15"/>
<circle cx="603.7" cy="476.9" r="4.3" fill="#ff8c00" stroke="#000" stroke-width="1.15"/>
<circle cx="603.7" cy="476.9" r="4.3" fill="#ff0000" stroke="#000" stroke-width="1.15"/>
<path d="M620.1 498.8L626.5 505.2L620.1 511.6L613.7 505.2Z" fill="#000" stroke="#000" stroke-width="1"/>
<circle cx="620.1" cy="496" r="4.3" fill="#ffffff" stroke="#000" stroke-width="1.15"/>
<circle cx="620.1" cy="493.5" r="4.3" fill="#ffff80" stroke="#000" stroke-width="1.15"/>
<circle cx="620.1" cy="491" r="4.3" fill="#ffff00" stroke="#000" stroke-width="1.15"/>
<circle cx="620.1" cy="488" r="4.3" fill="#ff8c00" stroke="#000" stroke-width="1.15"/>
<circle cx="620.1" cy="485.9" r="4.3" fill="#ff0000" stroke="#000" stroke-width="1.15"/>
<path d="M636.5 508.6L642.9 515L636.5 521.4L630.1 515Z" fill="#000" stroke="#000" stroke-width="1"/>
<circle cx="636.5" cy="502.7" r="4.3" fill="#ffffff" stroke="#000" stroke-width="1.15"/>
<circle cx="636.5" cy="498" r="4.3" fill="#ffff80" stroke="#000" stroke-width="1.15"/>
<circle cx="636.5" cy="497" r="4.3" fill="#ffff00" stroke="#000" stroke-width="1.15"/>
<circle cx="636.5" cy="496.5" r="4.3" fill="#ff8c00" stroke="#000" stroke-width="1.15"/>
<circle cx="636.5" cy="492.1" r="4.3" fill="#ff0000" stroke="#000" stroke-width="1.15"/>
<path d="M652.9 561.7L659.3 568.1L652.9 574.5L646.5 568.1Z" fill="#000" stroke="#000" stroke-width="1"/>
<circle cx="652.9" cy="552.5" r="4.3" fill="#ffffff" stroke="#000" stroke-width="1.15"/>
<circle cx="652.9" cy="549.7" r="4.3" fill="#ffff80" stroke="#000" stroke-width="1.15"/>
<circle cx="652.9" cy="533.4" r="4.3" fill="#ffff00" stroke="#000" stroke-width="1.15"/>
<circle cx="652.9" cy="538.4" r="4.3" fill="#ff8c00" stroke="#000" stroke-width="1.15"/>
<circle cx="652.9" cy="543" r="4.3" fill="#ff0000" stroke="#000" stroke-width="1.15"/>
<path d="M669.3 558.4L675.7 564.8L669.3 571.2L662.9 564.8Z" fill="#000" stroke="#000" stroke-width="1"/>
<circle cx="669.3" cy="546.3" r="4.3" fill="#ffffff" stroke="#000" stroke-width="1.15"/>
<circle cx="669.3" cy="543" r="4.3" fill="#ffff80" stroke="#000" stroke-width="1.15"/>
<circle cx="669.3" cy="543" r="4.3" fill="#ffff00" stroke="#000" stroke-width="1.15"/>
<circle cx="669.3" cy="536.3" r="4.3" fill="#ff8c00" stroke="#000" stroke-width="1.15"/>
<circle cx="669.3" cy="511.6" r="4.3" fill="#ff0000" stroke="#000" stroke-width="1.15"/>
<rect x="524.4" y="455.7" width="158.6" height="136.5" fill="none" stroke="#1a1a1a" stroke-width="1.25"/>
<line x1="516.4" y1="460.6" x2="524.4" y2="460.6" stroke="#111" stroke-width="1.35"/>
<text x="508.8" y="465.5" text-anchor="end" font-size="12.6" fill="#111">100</text>
<line x1="516.4" y1="492.4" x2="524.4" y2="492.4" stroke="#111" stroke-width="1.35"/>
<text x="508.8" y="497.3" text-anchor="end" font-size="12.6" fill="#111">90</text>
<line x1="516.4" y1="524.2" x2="524.4" y2="524.2" stroke="#111" stroke-width="1.35"/>
<text x="508.8" y="529.1" text-anchor="end" font-size="12.6" fill="#111">80</text>
<line x1="516.4" y1="556" x2="524.4" y2="556" stroke="#111" stroke-width="1.35"/>
<text x="508.8" y="560.9" text-anchor="end" font-size="12.6" fill="#111">70</text>
<line x1="516.4" y1="587.8" x2="524.4" y2="587.8" stroke="#111" stroke-width="1.35"/>
<text x="508.8" y="592.7" text-anchor="end" font-size="12.6" fill="#111">60</text>
<text transform="translate(474 523.95) rotate(-90)" text-anchor="middle" font-size="12.6">REG[%]</text>
<text x="530.5" y="475.1" font-size="15.2" font-weight="bold" fill="#111">(l)</text>
<line x1="538.1" y1="592.2" x2="538.1" y2="599.8" stroke="#111" stroke-width="1.35"/>
<text transform="translate(542.5 607.9) rotate(-90)" text-anchor="end" font-size="12.6" fill="#111">SLIT-LO</text>
<line x1="554.5" y1="592.2" x2="554.5" y2="599.8" stroke="#111" stroke-width="1.35"/>
<text transform="translate(558.9 607.9) rotate(-90)" text-anchor="end" font-size="12.6" fill="#111">PATCH-LO</text>
<line x1="570.9" y1="592.2" x2="570.9" y2="599.8" stroke="#111" stroke-width="1.35"/>
<text transform="translate(575.3 607.9) rotate(-90)" text-anchor="end" font-size="12.6" fill="#111">STRIP-LO</text>
<line x1="587.3" y1="592.2" x2="587.3" y2="599.8" stroke="#111" stroke-width="1.35"/>
<text transform="translate(591.7 607.9) rotate(-90)" text-anchor="end" font-size="12.6" fill="#111">SLIT-HI</text>
<line x1="603.7" y1="592.2" x2="603.7" y2="599.8" stroke="#111" stroke-width="1.35"/>
<text transform="translate(608.1 607.9) rotate(-90)" text-anchor="end" font-size="12.6" fill="#111">PATCH-HI</text>
<line x1="620.1" y1="592.2" x2="620.1" y2="599.8" stroke="#111" stroke-width="1.35"/>
<text transform="translate(624.5 607.9) rotate(-90)" text-anchor="end" font-size="12.6" fill="#111">STRIP-HI</text>
<line x1="636.5" y1="592.2" x2="636.5" y2="599.8" stroke="#111" stroke-width="1.35"/>
<text transform="translate(640.9 607.9) rotate(-90)" text-anchor="end" font-size="12.6" fill="#111">STRIP-HI-P</text>
<line x1="652.9" y1="592.2" x2="652.9" y2="599.8" stroke="#111" stroke-width="1.35"/>
<text transform="translate(657.3 607.9) rotate(-90)" text-anchor="end" font-size="12.6" fill="#111">NOM</text>
<line x1="669.3" y1="592.2" x2="669.3" y2="599.8" stroke="#111" stroke-width="1.35"/>
<text transform="translate(673.7 607.9) rotate(-90)" text-anchor="end" font-size="12.6" fill="#111">SAN</text>
<rect x="263.7" y="683.6" width="220.7" height="29.2" fill="none" stroke="#1a1a1a" stroke-width="1.2"/>
<path d="M274.5 692.6L280.9 699L274.5 705.4L268.1 699Z" fill="#000" stroke="#000" stroke-width="1"/>
<text x="285.8" y="703.4" font-size="12.6" fill="#111">c0</text>
<circle cx="310.5" cy="699" r="4.3" fill="#ffffff" stroke="#000" stroke-width="1.15"/>
<text x="321.8" y="703.4" font-size="12.6" fill="#111">c1</text>
<circle cx="346.5" cy="699" r="4.3" fill="#ffff80" stroke="#000" stroke-width="1.15"/>
<text x="357.8" y="703.4" font-size="12.6" fill="#111">c2</text>
<circle cx="382.8" cy="699" r="4.3" fill="#ffff00" stroke="#000" stroke-width="1.15"/>
<text x="394.1" y="703.4" font-size="12.6" fill="#111">c3</text>
<circle cx="418.2" cy="699" r="4.3" fill="#ff8c00" stroke="#000" stroke-width="1.15"/>
<text x="429.5" y="703.4" font-size="12.6" fill="#111">c4</text>
<circle cx="454.1" cy="699" r="4.3" fill="#ff0000" stroke="#000" stroke-width="1.15"/>
<text x="465.4" y="703.4" font-size="12.6" fill="#111">c5</text>
</svg></body></html>
